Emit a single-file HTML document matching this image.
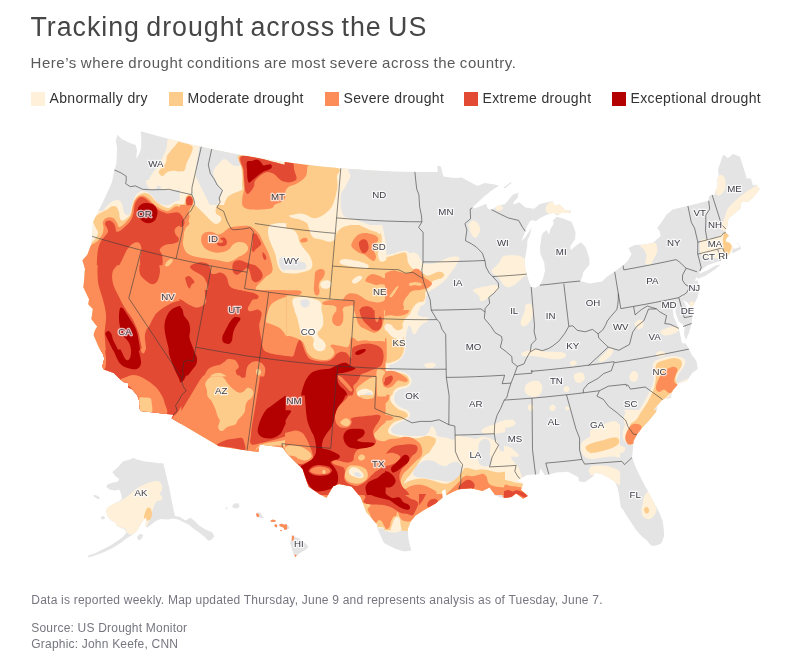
<!DOCTYPE html>
<html lang="en">
<head>
<meta charset="utf-8">
<title>Tracking drought across the US</title>
<style>
html,body{margin:0;padding:0;background:#fff;}
body{width:796px;height:659px;position:relative;overflow:hidden;font-family:"Liberation Sans",sans-serif;}
.t{position:absolute;white-space:nowrap;margin:0;line-height:1;}
h1.t{left:30.5px;top:14.1px;font-size:26.8px;font-weight:400;color:#464646;letter-spacing:0.95px;word-spacing:-1.9px;}
p.sub{left:30.5px;top:55.3px;font-size:15px;color:#5a5a5a;letter-spacing:0.55px;word-spacing:-0.8px;}
.lg{position:absolute;top:92px;height:14px;font-size:14px;line-height:14px;color:#333;white-space:nowrap;letter-spacing:0.36px;}
.lg i{position:absolute;left:0;top:0;width:14px;height:14px;display:block;}
.lg span{position:absolute;left:18.5px;top:-1px;}
p.ft{font-size:12px;color:#767680;left:31.3px;letter-spacing:0.2px;}
svg{position:absolute;left:0;top:0;}
</style>
</head>
<body>
<h1 class="t">Tracking drought across the US</h1>
<p class="t sub">Here’s where drought conditions are most severe across the country.</p>
<div class="lg" style="left:31px"><i style="background:#fef0d9"></i><span>Abnormally dry</span></div>
<div class="lg" style="left:169px"><i style="background:#fdcc8a"></i><span>Moderate drought</span></div>
<div class="lg" style="left:325px"><i style="background:#fc8d59"></i><span>Severe drought</span></div>
<div class="lg" style="left:464px"><i style="background:#e34a33"></i><span>Extreme drought</span></div>
<div class="lg" style="left:612px"><i style="background:#b30000"></i><span>Exceptional drought</span></div>
<svg width="796" height="659" viewBox="0 0 796 659">
<defs><clipPath id="land"><path d="M114.4,170.1 116.3,163.8 116.6,158.8 117.1,147.9 115.8,140.7 117.3,134.7 122,139.2 130.1,143 135.8,145 137.1,150.5 136,158.6 138.9,154.4 141.2,148.3 141.3,139.8 140.8,131.3 140.8,131.3 156.9,135.8 173.1,140 189.3,144 205.6,147.7 221.9,151.2 238.3,154.4 254.7,157.3 271.2,160 287.7,162.4 304.3,164.5 320.9,166.4 337.5,168 354.2,169.3 370.8,170.4 387.5,171.2 404.2,171.7 420.9,172 437.6,172 437.5,165.8 439.7,166 441.1,167.1 442.7,173.9 443.6,176.4 451.9,177.7 456.8,178.1 461.7,177.6 466.8,180.2 472.4,183.2 477.5,185.9 484.5,183 494.5,184.5 499,185.8 491.6,190.4 484.1,196.5 476.6,203.4 472.3,207.4 474.6,208.4 482.3,205.6 486.2,203.8 487.6,208.6 491.4,209.7 498.1,205.5 504.8,204.2 507.9,200.7 513.1,194.6 518.5,192.8 517.8,197.5 513.6,201.9 513.3,204.7 519.3,202.3 525.4,207.5 534.1,208.8 539.8,204.1 549.8,201.7 552.6,201 554.2,205.3 559.8,204.6 563,207.5 565.1,210.5 570.9,210.6 570.6,212.8 564.9,213 561.4,213.1 557.1,215.6 553.4,212.8 545.6,215.3 539.1,218.5 535.9,221.3 532.3,220 530.1,221 527.1,226.2 525.3,231.3 521.9,239.8 521.4,241 524.7,238 528.3,232.7 531.3,227.8 530.2,234.2 527.3,241 527.2,246 526,252.7 524.5,262.7 524.7,265.2 526.7,274.1 529.2,282.2 530,284.6 531.2,287 535.2,287.8 539.8,285.2 542.8,279.2 545,270.7 544.2,262.5 540.3,253.8 540.1,246.4 541.5,236.4 542.9,232.9 546.6,230 548.9,234.4 550.6,228.8 553.5,224.3 553.1,220.2 556.7,216.8 563.3,218.5 571.8,222 573.6,226.8 575.5,232.3 575.2,239 570.3,246.3 570.8,250.3 576.1,245.5 581,242.3 585.9,247.5 589.3,258.6 589.5,264.4 585.9,269.1 583.3,272 582.6,276.2 580.2,281 585.9,282.4 589.8,283.6 598.2,282 601.8,281.8 607.2,276.5 614.7,271.7 619.3,268.1 623,265.5 627.8,260.8 631.5,254.3 628.5,247.9 634.6,245 645.4,244.4 653.5,242.5 657.5,238.8 660.6,236 659.5,231.1 657.1,228.3 662.2,221.3 666.7,214.5 672.4,209.8 672.4,209.6 684.5,206.8 696.6,203.8 708.7,200.7 708.8,196.6 712.1,194.9 714.9,195 714.8,192.5 717.7,185.7 717.3,179.9 718.7,174.4 718,169.5 722.9,155.3 725.1,155.6 727.6,158.3 733.3,153.9 740,156.8 745.3,173.4 746.6,178.2 750.9,178.6 753,185.6 756.4,184.6 759.9,189 754.5,196.3 748.8,201.5 741.6,202 740.1,209.3 733.1,214.7 728.6,218.5 727,228.3 726,229.1 725.7,232.6 729,235.5 726.2,238.8 725.7,241.5 729.8,243 732.6,246.5 734,249 739.7,247.1 738,243.3 736.2,243.4 739.8,245.3 741.1,248.9 735.9,251.5 733.3,253.5 731.4,251.1 729.3,255.1 727.9,255.4 727.1,256.2 723.3,251.5 724.2,257.3 720,260.8 712.6,263.4 707.9,264.9 702.6,269 699.8,271.1 699.3,273.7 707.9,270 715.6,265.5 721,264.6 714.3,270.1 705.5,275.7 698,278.7 696.6,277 694.7,280.8 697.8,280.6 699.6,288.1 697.8,297 695.1,301.9 691.9,308.1 687.5,302.8 682.4,299.7 685.1,303.3 686.1,308.2 690.6,310.9 692.4,316.1 691.6,323.4 689,333 685.9,340.1 683.9,334 684.9,326.2 678.7,321.6 675.4,312.2 676.1,303.6 672.5,307.7 673.9,317.5 677.5,325.3 678.8,328.4 680.2,334.8 681.9,342.9 686,343.7 688.9,349.1 691.6,354.4 696.4,361 697.8,369.1 692.2,372.9 687.1,380.7 679.4,383.1 672.6,390.4 670.7,398.3 662.7,399.6 657.7,405.8 656,411.9 648,421.7 641.5,428.6 636.9,434.7 633.7,440.7 632.9,449.2 632,457.6 632.3,457 633.2,460.5 635.8,467.5 640.1,476.2 644.5,484.9 648.9,492.8 652.4,499.7 656.7,507.6 660.2,514.6 662.8,521.6 663.7,528.5 664.2,535.5 662.8,539.9 661.1,543.4 657.6,545.1 653.2,546 650.6,545.1 647.1,540.8 642.8,537.3 639.3,533.8 635.8,529.4 632.3,524.2 628.8,518.9 625.3,513.7 623.6,510.2 620.9,507.6 620.1,502.4 619.2,495.4 617.5,487.5 614.8,481.4 602.3,474.3 595,472.8 593.3,476.3 584.7,482.3 578.8,481.3 578.4,477.2 567.8,471.7 556.6,472.5 548.9,474.4 544.8,475.3 540.6,468.5 539,474.4 535.5,474.4 527,474.9 520.2,478.7 516.8,481 523.4,483 521,489.8 527.8,495.9 523,498.7 516.2,493.4 511.4,497 502.9,498.3 495.5,495.4 489.5,487.5 482.5,491.1 471,488.2 458.9,489.3 452.6,491.9 446.2,495.3 445.4,488.8 441.9,491.2 442.6,497.8 435.5,503.6 424,510.1 415.3,515.8 410.9,521.5 407.8,528.8 408.4,538.5 411.2,550.6 404.5,551.5 395.7,548.9 384,542.9 377.8,529.6 377.2,524.7 366.1,512 361,497.8 351.6,486.4 338.9,483.9 333.1,486.3 326.5,497.7 319.6,494.3 308.7,486.8 305.3,477.5 302.6,469 294.2,460.7 286.6,453 282.6,447.4 259.5,444.6 258.5,452 246.9,450.4 219,446.3 171.5,418.3 173.4,414.8 140.5,411 139.4,407.9 139.9,402.9 137.3,395.6 131.9,389.2 128.1,387.5 127.9,382.7 123.8,382.2 119.2,378.5 113.7,372.9 103.9,369.5 102.2,366.5 104.3,358.5 102.8,353.8 98.6,346.7 93.6,335 95,330.2 97.3,326.6 95.3,324.3 91.4,318.9 92.9,309 88.3,304.2 89.1,299.3 83.4,287.2 84.1,280.5 85,268.7 82.4,260.3 87.3,254.7 91.1,244.7 92.2,236.4 93,221.9 105.9,195.8 111.9,182.2 114.4,170.1ZM503.6,187.5 510.9,182 511.6,183 504.8,188.4ZM112.3,472 118.4,466.7 122.8,461.4 129,459.7 133.4,457.9 137.8,459.7 144.8,461.4 151.9,462.3 158.9,463.2 163.3,463.2 166,474.6 169.5,488.7 172.1,502.8 174.8,516 180.1,516.9 185.3,520.4 190.6,517.8 194.1,520.4 199.4,525.7 206.5,530.1 211.7,531.9 214.4,536.3 211.7,539.8 208.2,540.7 204.7,537.1 199.4,532.7 194.1,529.2 188.9,524.8 183.6,522.2 178.3,519.5 173,518.6 167.7,519.5 160.7,519 155.4,521.3 151,524.8 147.5,527.5 145.2,526 146.6,520.4 146.1,517.2 144,519.5 140.4,524.8 136.9,531 133.4,534.1 127.2,538 120.2,543.3 113.2,547.7 106.1,551.2 99.1,553.9 92,556.5 87.6,557.4 88.5,555.6 95.6,553 102.6,549.5 109.6,545.9 116.7,541.5 122.8,537.1 126.4,532.7 124.6,529.2 120.2,527.5 116.7,525.7 115.8,523.1 111.4,520.4 107.9,516.9 106.1,511.6 107,508.1 110.5,505.4 115.8,502.8 119.3,501 122,499.3 121.1,494 119.3,489.6 114.9,490.5 109.6,489.6 106.1,487 107.9,484.3 113.2,482.6 117.6,481.7 119.3,479 115.8,476.4ZM136.9,537.1 139.6,534.1 143.1,534.5 142.2,538 138.7,540.7ZM92.9,495.4 95.6,494.9 100,497.5 99.1,499.3 95.6,497.9ZM100.8,516.9 103.5,516 105.2,517.8 103.5,519.5 101.2,519ZM232.6,505.1 235.1,503.2 238.8,503.5 239.5,506.3 237.6,508.6 234.4,508.2 232.3,506.9ZM225.3,508.8 226.9,506.9 227.8,507.6 226.3,509.4ZM255.8,513.8 257.7,512.3 260.2,512.6 262.1,515.7 264,517.9 262.1,518.2 259.6,517.6 257.1,517 256.2,515.4ZM270.3,520.8 272.1,519.6 275.3,520.1 275.9,521.4 273.4,522 270.9,521.8ZM274.3,524.9 275.9,523.9 277.5,525.4 276.8,527.4 275,527ZM279,524.5 281.6,523.6 284.1,524.5 286.6,524.1 289.1,526.4 289.7,528.3 287.2,529.5 284.7,529.9 283.4,527.9 281.6,527 279.7,526.2ZM279.8,530.4 281.3,529.7 282.2,530.7 280.9,531.4ZM291.6,535.8 293.5,535.2 295.4,537.1 299.1,538.3 302.9,540.9 306.1,544 308.6,546.8 306.7,549 303.5,550.9 300.4,552.8 297.3,555.3 295.4,557.2 294.1,555.3 292.9,552.2 291.9,549 291,545.3 289.7,543.4 291,540.2 291.9,537.7Z"/></clipPath></defs>
<path d="M114.4,170.1 116.3,163.8 116.6,158.8 117.1,147.9 115.8,140.7 117.3,134.7 122,139.2 130.1,143 135.8,145 137.1,150.5 136,158.6 138.9,154.4 141.2,148.3 141.3,139.8 140.8,131.3 140.8,131.3 156.9,135.8 173.1,140 189.3,144 205.6,147.7 221.9,151.2 238.3,154.4 254.7,157.3 271.2,160 287.7,162.4 304.3,164.5 320.9,166.4 337.5,168 354.2,169.3 370.8,170.4 387.5,171.2 404.2,171.7 420.9,172 437.6,172 437.5,165.8 439.7,166 441.1,167.1 442.7,173.9 443.6,176.4 451.9,177.7 456.8,178.1 461.7,177.6 466.8,180.2 472.4,183.2 477.5,185.9 484.5,183 494.5,184.5 499,185.8 491.6,190.4 484.1,196.5 476.6,203.4 472.3,207.4 474.6,208.4 482.3,205.6 486.2,203.8 487.6,208.6 491.4,209.7 498.1,205.5 504.8,204.2 507.9,200.7 513.1,194.6 518.5,192.8 517.8,197.5 513.6,201.9 513.3,204.7 519.3,202.3 525.4,207.5 534.1,208.8 539.8,204.1 549.8,201.7 552.6,201 554.2,205.3 559.8,204.6 563,207.5 565.1,210.5 570.9,210.6 570.6,212.8 564.9,213 561.4,213.1 557.1,215.6 553.4,212.8 545.6,215.3 539.1,218.5 535.9,221.3 532.3,220 530.1,221 527.1,226.2 525.3,231.3 521.9,239.8 521.4,241 524.7,238 528.3,232.7 531.3,227.8 530.2,234.2 527.3,241 527.2,246 526,252.7 524.5,262.7 524.7,265.2 526.7,274.1 529.2,282.2 530,284.6 531.2,287 535.2,287.8 539.8,285.2 542.8,279.2 545,270.7 544.2,262.5 540.3,253.8 540.1,246.4 541.5,236.4 542.9,232.9 546.6,230 548.9,234.4 550.6,228.8 553.5,224.3 553.1,220.2 556.7,216.8 563.3,218.5 571.8,222 573.6,226.8 575.5,232.3 575.2,239 570.3,246.3 570.8,250.3 576.1,245.5 581,242.3 585.9,247.5 589.3,258.6 589.5,264.4 585.9,269.1 583.3,272 582.6,276.2 580.2,281 585.9,282.4 589.8,283.6 598.2,282 601.8,281.8 607.2,276.5 614.7,271.7 619.3,268.1 623,265.5 627.8,260.8 631.5,254.3 628.5,247.9 634.6,245 645.4,244.4 653.5,242.5 657.5,238.8 660.6,236 659.5,231.1 657.1,228.3 662.2,221.3 666.7,214.5 672.4,209.8 672.4,209.6 684.5,206.8 696.6,203.8 708.7,200.7 708.8,196.6 712.1,194.9 714.9,195 714.8,192.5 717.7,185.7 717.3,179.9 718.7,174.4 718,169.5 722.9,155.3 725.1,155.6 727.6,158.3 733.3,153.9 740,156.8 745.3,173.4 746.6,178.2 750.9,178.6 753,185.6 756.4,184.6 759.9,189 754.5,196.3 748.8,201.5 741.6,202 740.1,209.3 733.1,214.7 728.6,218.5 727,228.3 726,229.1 725.7,232.6 729,235.5 726.2,238.8 725.7,241.5 729.8,243 732.6,246.5 734,249 739.7,247.1 738,243.3 736.2,243.4 739.8,245.3 741.1,248.9 735.9,251.5 733.3,253.5 731.4,251.1 729.3,255.1 727.9,255.4 727.1,256.2 723.3,251.5 724.2,257.3 720,260.8 712.6,263.4 707.9,264.9 702.6,269 699.8,271.1 699.3,273.7 707.9,270 715.6,265.5 721,264.6 714.3,270.1 705.5,275.7 698,278.7 696.6,277 694.7,280.8 697.8,280.6 699.6,288.1 697.8,297 695.1,301.9 691.9,308.1 687.5,302.8 682.4,299.7 685.1,303.3 686.1,308.2 690.6,310.9 692.4,316.1 691.6,323.4 689,333 685.9,340.1 683.9,334 684.9,326.2 678.7,321.6 675.4,312.2 676.1,303.6 672.5,307.7 673.9,317.5 677.5,325.3 678.8,328.4 680.2,334.8 681.9,342.9 686,343.7 688.9,349.1 691.6,354.4 696.4,361 697.8,369.1 692.2,372.9 687.1,380.7 679.4,383.1 672.6,390.4 670.7,398.3 662.7,399.6 657.7,405.8 656,411.9 648,421.7 641.5,428.6 636.9,434.7 633.7,440.7 632.9,449.2 632,457.6 632.3,457 633.2,460.5 635.8,467.5 640.1,476.2 644.5,484.9 648.9,492.8 652.4,499.7 656.7,507.6 660.2,514.6 662.8,521.6 663.7,528.5 664.2,535.5 662.8,539.9 661.1,543.4 657.6,545.1 653.2,546 650.6,545.1 647.1,540.8 642.8,537.3 639.3,533.8 635.8,529.4 632.3,524.2 628.8,518.9 625.3,513.7 623.6,510.2 620.9,507.6 620.1,502.4 619.2,495.4 617.5,487.5 614.8,481.4 602.3,474.3 595,472.8 593.3,476.3 584.7,482.3 578.8,481.3 578.4,477.2 567.8,471.7 556.6,472.5 548.9,474.4 544.8,475.3 540.6,468.5 539,474.4 535.5,474.4 527,474.9 520.2,478.7 516.8,481 523.4,483 521,489.8 527.8,495.9 523,498.7 516.2,493.4 511.4,497 502.9,498.3 495.5,495.4 489.5,487.5 482.5,491.1 471,488.2 458.9,489.3 452.6,491.9 446.2,495.3 445.4,488.8 441.9,491.2 442.6,497.8 435.5,503.6 424,510.1 415.3,515.8 410.9,521.5 407.8,528.8 408.4,538.5 411.2,550.6 404.5,551.5 395.7,548.9 384,542.9 377.8,529.6 377.2,524.7 366.1,512 361,497.8 351.6,486.4 338.9,483.9 333.1,486.3 326.5,497.7 319.6,494.3 308.7,486.8 305.3,477.5 302.6,469 294.2,460.7 286.6,453 282.6,447.4 259.5,444.6 258.5,452 246.9,450.4 219,446.3 171.5,418.3 173.4,414.8 140.5,411 139.4,407.9 139.9,402.9 137.3,395.6 131.9,389.2 128.1,387.5 127.9,382.7 123.8,382.2 119.2,378.5 113.7,372.9 103.9,369.5 102.2,366.5 104.3,358.5 102.8,353.8 98.6,346.7 93.6,335 95,330.2 97.3,326.6 95.3,324.3 91.4,318.9 92.9,309 88.3,304.2 89.1,299.3 83.4,287.2 84.1,280.5 85,268.7 82.4,260.3 87.3,254.7 91.1,244.7 92.2,236.4 93,221.9 105.9,195.8 111.9,182.2 114.4,170.1ZM503.6,187.5 510.9,182 511.6,183 504.8,188.4ZM112.3,472 118.4,466.7 122.8,461.4 129,459.7 133.4,457.9 137.8,459.7 144.8,461.4 151.9,462.3 158.9,463.2 163.3,463.2 166,474.6 169.5,488.7 172.1,502.8 174.8,516 180.1,516.9 185.3,520.4 190.6,517.8 194.1,520.4 199.4,525.7 206.5,530.1 211.7,531.9 214.4,536.3 211.7,539.8 208.2,540.7 204.7,537.1 199.4,532.7 194.1,529.2 188.9,524.8 183.6,522.2 178.3,519.5 173,518.6 167.7,519.5 160.7,519 155.4,521.3 151,524.8 147.5,527.5 145.2,526 146.6,520.4 146.1,517.2 144,519.5 140.4,524.8 136.9,531 133.4,534.1 127.2,538 120.2,543.3 113.2,547.7 106.1,551.2 99.1,553.9 92,556.5 87.6,557.4 88.5,555.6 95.6,553 102.6,549.5 109.6,545.9 116.7,541.5 122.8,537.1 126.4,532.7 124.6,529.2 120.2,527.5 116.7,525.7 115.8,523.1 111.4,520.4 107.9,516.9 106.1,511.6 107,508.1 110.5,505.4 115.8,502.8 119.3,501 122,499.3 121.1,494 119.3,489.6 114.9,490.5 109.6,489.6 106.1,487 107.9,484.3 113.2,482.6 117.6,481.7 119.3,479 115.8,476.4ZM136.9,537.1 139.6,534.1 143.1,534.5 142.2,538 138.7,540.7ZM92.9,495.4 95.6,494.9 100,497.5 99.1,499.3 95.6,497.9ZM100.8,516.9 103.5,516 105.2,517.8 103.5,519.5 101.2,519ZM232.6,505.1 235.1,503.2 238.8,503.5 239.5,506.3 237.6,508.6 234.4,508.2 232.3,506.9ZM225.3,508.8 226.9,506.9 227.8,507.6 226.3,509.4ZM255.8,513.8 257.7,512.3 260.2,512.6 262.1,515.7 264,517.9 262.1,518.2 259.6,517.6 257.1,517 256.2,515.4ZM270.3,520.8 272.1,519.6 275.3,520.1 275.9,521.4 273.4,522 270.9,521.8ZM274.3,524.9 275.9,523.9 277.5,525.4 276.8,527.4 275,527ZM279,524.5 281.6,523.6 284.1,524.5 286.6,524.1 289.1,526.4 289.7,528.3 287.2,529.5 284.7,529.9 283.4,527.9 281.6,527 279.7,526.2ZM279.8,530.4 281.3,529.7 282.2,530.7 280.9,531.4ZM291.6,535.8 293.5,535.2 295.4,537.1 299.1,538.3 302.9,540.9 306.1,544 308.6,546.8 306.7,549 303.5,550.9 300.4,552.8 297.3,555.3 295.4,557.2 294.1,555.3 292.9,552.2 291.9,549 291,545.3 289.7,543.4 291,540.2 291.9,537.7Z" fill="#e4e4e4"/>
<g clip-path="url(#land)">
<path fill="#fef0d9" d="M80,210.7C83.7,210.7 98,211.1 102.2,210.7C106.3,210.2 103.7,209.3 105,208.1C106.4,206.8 108.5,204.3 110,203.1C111.6,201.8 112.8,201.1 114.1,200.6C115.5,200.1 116.9,199.8 118.1,200C119.3,200.3 120.4,201.1 121.1,202.2C121.9,203.2 122.2,204.6 122.6,206.1C123.1,207.6 123.3,209.8 123.7,211.1C124.1,212.4 124.5,213.5 125.2,214.1C126,214.8 127.4,215.5 128.3,215.2C129.1,215 129.8,214.2 130.4,212.6C130.9,211.1 131.1,207.8 131.6,205.8C132.1,203.8 132.7,202.3 133.4,200.5C134.1,198.7 134.9,196.6 135.8,195.2C136.8,193.8 138,192.8 139.2,192.1C140.3,191.4 141.4,190.9 142.8,190.9C144.2,191 146.1,191.6 147.5,192.3C148.9,193 150,194.3 151.2,195.3C152.3,196.4 153.4,197.7 154.4,198.7C155.3,199.7 155.6,200.6 156.6,201.4C157.6,202.2 158.9,203 160.3,203.7C161.7,204.3 163.4,205 165,205.2C166.5,205.4 168.3,205.1 169.5,204.7C170.8,204.4 171.6,203.5 172.6,202.9C173.6,202.4 174.4,201.8 175.4,201.4C176.5,201 177.8,200.8 178.6,200.6C179.4,200.4 180,200.3 180.3,200.2L180.3,265.3L80,265.3L80,210.7ZM180.3,180L180.3,186.1C180.2,186.2 179.8,186.1 179.5,186.8C179.3,187.5 179.8,189.7 178.6,190.3C177.5,190.9 175.5,190.5 172.7,190.3C170,190.2 164.1,190.1 162.1,189.4C160,188.8 161.2,186.9 160.4,186.4C159.6,185.8 158.1,185.7 157.4,186.1C156.6,186.5 157.1,188.3 155.9,188.8C154.6,189.3 151.5,189.5 150,188.8C148.4,188.1 147.4,186 146.8,184.6C146.1,183.1 146.1,180.8 146,180L180.3,180ZM285.3,125 285.3,205.3 179.7,205.3 179.7,125ZM168.6,139C170.8,137.6 178.4,139 180.3,139L180.3,180.3L148.8,180.3C148.8,180.3 148.4,180.9 148.9,179.9C149.3,179 150.4,176.5 151.6,174.6C152.8,172.7 154.8,170.6 156.1,168.6C157.5,166.5 158.7,164.8 159.9,162.5C161.2,160.2 162.6,157.4 163.7,154.9C164.9,152.4 166,150 166.8,147.3C167.6,144.7 166.3,140.4 168.6,139ZM390,225.3 284.7,225.3 284.7,140 390,140ZM180,205 285.4,205 285.4,290.4 180,290.4ZM285,225 385.4,225 385.4,310.4 285,310.4ZM385,255.3C386.3,255.1 390.1,254.5 392.6,253.8C395.1,253.2 397.9,252.1 400.2,251.6C402.5,251 404.7,250.2 406.2,250.5C407.8,250.7 408,252.8 409.3,253.1C410.5,253.4 412.4,252.1 413.8,252.3C415.2,252.6 416.5,253.5 417.6,254.6C418.8,255.7 419.9,257.8 420.7,259.1C421.4,260.5 421,262.2 422.2,262.9C423.3,263.7 425.3,263.7 427.5,263.7C429.6,263.7 432.5,263.6 435.1,262.9C437.6,262.3 440.4,260.8 442.7,259.9C444.9,259 446.7,258.2 448.7,257.6C450.8,257.1 453,256.6 454.8,256.6C456.6,256.6 458.8,256.7 459.4,257.6C459.9,258.6 458.6,260.5 457.8,262.2C457.1,263.8 456.1,265.6 454.8,267.5C453.5,269.4 451.8,271.5 450.3,273.6C448.7,275.6 447.5,277.7 445.7,279.6C443.9,281.5 441.7,283.4 439.6,284.9C437.6,286.5 435.3,287.6 433.6,288.7C431.8,289.9 430.3,290.3 429,291.8C427.7,293.3 426.7,295.8 426,297.8C425.3,299.9 425.6,302.5 424.8,303.9C423.9,305.3 421.6,305.2 420.7,306.2C419.7,307.2 419.5,309.3 419.1,310C418.8,310.7 418.8,310.3 418.7,310.4L385,310.4L385,255.3ZM473,290.3C473.3,289.4 475.5,288.6 477.6,288C479.6,287.3 482.6,287 485.2,286.5C487.7,286 490.7,285.1 492.7,284.9C494.8,284.8 496.4,284.9 497.3,285.7C498.2,286.5 498.6,288.2 498.1,289.5C497.5,290.8 495.6,292.1 494.3,293.3C492.9,294.4 491.2,295.2 489.7,296.3C488.2,297.5 486.7,299.4 485.2,300.1C483.6,300.9 481.6,301.5 480.6,300.9C479.6,300.2 479.8,297.6 479.1,296.3C478.3,295.1 477.1,294.3 476,293.3C475,292.3 472.8,291.1 473,290.3ZM469.2,225L479.1,225C479.3,225.8 480.4,227.9 480.3,229.6C480.2,231.2 479.2,233.5 478.3,234.9C477.5,236.3 476.3,237.8 475.3,237.9C474.3,238 473.1,236.8 472.3,235.6C471.4,234.5 470.5,232.8 470,231.1C469.5,229.3 469.3,226 469.2,225ZM75,265 180.4,265 180.4,350.4 75,350.4ZM285.5,290 285.5,375.5 179.5,375.5 179.5,290ZM285,310 385.5,310 385.5,395.5 285,395.5ZM385,310L419.1,310C418.9,310.8 417.2,313.4 417.6,314.6C418,315.7 419.6,316.3 421.4,316.8C423.2,317.3 427.2,316.8 428.2,317.6C429.3,318.3 428.4,320.4 427.5,321.4C426.6,322.4 424.3,322.6 422.9,323.7C421.5,324.7 420.3,325.9 419.1,327.5C418,329 417,331.6 416.1,332.8C415.2,333.9 414.2,334.7 413.5,334.3C412.8,333.9 412.6,331.9 412,330.5C411.4,329.1 410.7,326.6 410,325.9C409.4,325.3 408.6,325.7 408.1,326.7C407.5,327.7 407,329.7 406.5,332C406.1,334.3 405.7,337.7 405.5,340.3C405.3,343 405.9,345.4 405.5,347.9C405.1,350.5 404.3,353.4 403.2,355.5C402.1,357.7 400.4,359.4 398.7,360.8C396.9,362.2 394.2,363.1 392.6,363.9C390.9,364.6 389.3,364.8 388.8,365.4C388.3,366 390.2,367.2 389.6,367.7C388.9,368.2 385.8,368.3 385,368.4L385,310ZM385,369.2C386,369.3 389,369.7 391.1,369.9C393.1,370.2 395.1,370.3 397.1,370.7C399.2,371.1 401.4,371.6 403.2,372.2C405,372.8 406.4,373.5 407.8,374.5C409.1,375.5 410.5,376.9 411.1,378.3C411.7,379.7 411.9,381.6 411.6,382.8C411.3,384.1 410.2,385 409.3,385.9C408.4,386.8 407.5,387.6 406.2,388.1C405,388.7 403.1,388.5 401.7,388.9C400.3,389.3 399,389.7 397.9,390.4C396.8,391.2 395.5,392.6 394.9,393.5C394.2,394.3 394.2,395.2 394,395.5L385,395.5L385,369.2ZM424.2,365.4C424,364.6 426,363.5 427.5,363.1C428.9,362.7 431.4,362.6 432.8,362.8C434.2,363.1 435.7,363.9 435.8,364.6C436,365.4 434.8,366.8 433.6,367.4C432.3,367.9 429.8,368.3 428.2,368C426.7,367.6 424.3,366.2 424.2,365.4ZM75,349.5 180.5,349.5 180.5,445 75,445ZM179.4,475 179.4,375 285.6,375 285.6,475ZM285,395 385.6,395 385.6,495 285,495ZM385,395L394.9,395C394.7,395.8 393.9,398 394.1,399.6C394.4,401.1 395.1,402.7 396.4,404.1C397.6,405.5 399.8,406.9 401.7,407.9C403.6,408.9 406.4,409 407.8,410.2C409.2,411.3 410,413.2 410,414.7C410,416.2 409.2,418.1 407.8,419.3C406.4,420.4 403.7,420.7 401.7,421.6C399.7,422.4 397.4,423.3 395.6,424.6C393.9,425.9 391.6,427.8 391.1,429.1C390.6,430.5 391.3,432 392.6,432.9C393.9,433.9 396.4,434.3 398.7,434.8C400.9,435.2 403.5,435.5 406.2,435.7C409,435.9 412.3,436 415.3,436C418.4,436 422.2,436.4 424.5,435.7C426.7,434.9 428,432.8 429,431.4C430,430.1 429.8,428.4 430.5,427.6C431.3,426.9 432.7,426.2 433.6,426.9C434.4,427.5 435.2,429.9 435.8,431.4C436.5,432.9 435.7,435 437.4,436C439,437 443,436.9 445.7,437.5C448.4,438.1 451.5,440 453.3,439.8C455.1,439.5 454.5,436.5 456.3,436C458.1,435.5 461.6,436.5 463.9,436.7C466.2,437 468,437.1 470,437.5C472,437.9 474.5,439 476,439C477.6,439 477.8,437.9 479.1,437.5C480.3,437.1 481.9,436.6 483.6,436.7C485.4,436.9 487.9,437.6 489.7,438.2C491.5,438.9 493.1,440.1 494.3,440.5C495.4,440.9 495.8,439.5 496.5,440.5C497.3,441.5 498.2,444.8 498.8,446.6C499.4,448.4 499.3,450.4 500.3,451.1C501.4,451.9 504.2,451.1 505,451.1L505,495L385,495L385,395ZM481.4,430.7C481.6,429.7 483.5,428.5 485.2,427.6C486.8,426.7 489.7,425.9 491.2,425.3C492.7,424.8 493.1,425.1 494.3,424.6C495.4,424.1 496.8,422.9 498.1,422.3C499.3,421.7 500.7,421.4 501.8,421.1C503,420.8 504.5,420.8 505,420.8L505,432.2C504.2,432.3 502.1,432.7 500.3,432.9C498.6,433.2 496.3,433.5 494.6,433.7C492.8,433.9 491.5,434.2 489.7,434.2C487.9,434.1 485,433.8 483.6,433.2C482.2,432.7 481.1,431.6 481.4,430.7ZM300,494.1L420,494.1L420,527.7C419,527.7 415.7,527.5 413.8,528C411.9,528.5 410.6,530.3 408.5,530.7C406.3,531.1 403.1,530.1 400.9,530.4C398.8,530.7 397.5,532.2 395.6,532.5C393.7,532.8 391.6,532.6 389.5,532.2C387.5,531.8 385.5,530.6 383.5,529.9C381.4,529.3 391.3,528.7 377.4,528.4C363.5,528.2 312.9,528.4 300,528.4L300,494.1ZM504.5,455L509.8,455C510.2,455.8 511.1,458 512.1,459.6C513.1,461.1 514.6,462.3 515.9,464.1C517.2,465.9 518.7,467.9 519.7,470.2C520.7,472.5 521.3,475.5 522,477.8C522.6,480 522.1,480.5 523.5,483.8C524.9,487.1 533.5,495.2 530.3,497.5C527.2,499.8 508.8,504.6 504.5,497.5C500.2,490.4 504.5,462.1 504.5,455ZM419,518.7 419,494 445.3,494 445.3,518.7ZM467.7,225.5C468.6,224.7 471.1,220.9 472.8,220.5C474.4,220.1 476.8,222.2 477.8,223C478.8,223.9 478.5,225.2 478.7,225.7L467.7,225.7C467.7,225.7 466.9,226.4 467.7,225.5ZM495.4,206.7C495.8,205.8 497.9,204.9 499.1,204.9C500.4,204.9 502.5,205.8 502.9,206.7C503.3,207.5 502.7,209.3 501.7,209.9C500.6,210.6 497.7,211 496.6,210.5C495.6,209.9 495,207.6 495.4,206.7ZM545.6,207.9C546,206.3 547.5,203.5 549.4,202.4C551.3,201.4 555.1,201.2 556.9,201.7C558.8,202.2 559,204.2 560.7,205.4C562.4,206.7 565.3,208.3 567,209.2C568.7,210.1 570.8,210.2 570.8,211C570.8,211.7 568.9,212.9 567,213.5C565.1,214 562,214.1 559.4,214.2C556.9,214.3 554,214.5 551.9,214.2C549.8,213.9 547.9,213.5 546.9,212.5C545.8,211.4 545.2,209.6 545.6,207.9ZM545.6,207.9C546,206.3 547.5,203.5 549.4,202.4C551.3,201.4 555.1,201.2 556.9,201.7C558.8,202.2 559,204.2 560.7,205.4C562.4,206.7 565.3,208.3 567,209.2C568.7,210.1 570.8,210.2 570.8,211C570.8,211.7 568.9,212.9 567,213.5C565.1,214 562,214.1 559.4,214.2C556.9,214.3 554,214.5 551.9,214.2C549.8,213.9 547.9,213.5 546.9,212.5C545.8,211.4 545.2,209.6 545.6,207.9ZM525.5,305.2C526.4,304.2 529.3,303.1 530.6,303.9C531.8,304.8 532.9,307.9 533.1,310.2C533.3,312.5 532.6,315.5 531.8,317.8C531,320.1 529.5,322.6 528,324C526.6,325.5 524.3,326.8 523,326.6C521.8,326.3 520.5,324.7 520.5,322.8C520.5,320.9 522.3,317.3 523,315.3C523.8,313.2 524.6,311.9 525,310.2C525.4,308.6 524.6,306.2 525.5,305.2ZM521.8,352.9C522.6,352 525.7,351.1 528,350.4C530.3,349.8 532.6,349 535.6,349.2C538.5,349.4 542.3,351.3 545.6,351.7C549,352.1 552.5,351.5 555.7,351.7C558.8,351.9 562.8,352.1 564.5,352.9C566.1,353.8 566.8,355.7 565.7,356.7C564.7,357.8 561.1,358.9 558.2,359.2C555.3,359.5 551.5,358.9 548.1,358.5C544.8,358 541,357.1 538.1,356.7C535.2,356.3 533.1,356.1 530.6,356C528,355.8 524.5,356.5 523,356C521.5,355.5 520.9,353.9 521.8,352.9ZM570.3,361.7C570.9,361 573.4,360.3 574.5,360.5C575.7,360.7 577.2,362.2 577,363C576.9,363.8 574.8,365.2 573.8,365.5C572.7,365.8 571.3,365.6 570.8,365C570.2,364.4 569.6,362.5 570.3,361.7ZM598.9,359.2C599.6,357.8 602.9,354.7 604.7,352.9C606.5,351.1 608.3,348.8 609.7,348.4C611.1,348 612.8,349.3 613,350.4C613.2,351.6 612.3,353.8 611,355.5C609.6,357.1 606.4,359.4 604.7,360.5C602.9,361.5 601.4,361.9 600.4,361.7C599.4,361.5 598.2,360.7 598.9,359.2ZM525.5,385.6C526.4,383.9 528.5,382.6 530.6,381.8C532.6,381.1 536.2,380.5 538.1,381.1C540,381.7 541.4,383.6 541.9,385.6C542.4,387.6 542.2,391.3 541.1,393.1C540.1,395 537.5,396.5 535.6,396.9C533.6,397.3 531.1,396.5 529.3,395.7C527.5,394.8 525.7,393.6 525,391.9C524.4,390.2 524.6,387.3 525.5,385.6ZM563.7,388.1C564.1,387.2 566,386 567,386.1C567.9,386.2 569.4,387.7 569.5,388.6C569.6,389.6 568.6,391.4 567.7,391.9C566.9,392.3 565.1,392 564.5,391.4C563.8,390.8 563.3,389 563.7,388.1ZM573.8,375.6C574.2,374 576.7,372.9 578.3,372.5C579.9,372.2 582.3,372.5 583.3,373.5C584.4,374.5 585,377.1 584.6,378.6C584.2,380.1 582.3,382 580.8,382.6C579.3,383.1 577,383 575.8,381.8C574.6,380.7 573.4,377.1 573.8,375.6ZM549.4,407C549.7,405.9 551.6,404.4 552.7,404.4C553.7,404.4 555.4,406 555.7,407C556,407.9 555.3,409.6 554.4,410.2C553.6,410.9 551.5,411.3 550.7,410.7C549.8,410.2 549.1,408 549.4,407ZM565,407.7C565.1,407 567,406 567.7,406.2C568.5,406.4 569.6,408 569.5,408.7C569.4,409.5 567.7,410.9 567,410.7C566.2,410.6 564.8,408.5 565,407.7ZM528,405.7C528.6,404.7 530.9,403.4 531.8,403.7C532.7,404 533.7,406.5 533.6,407.7C533.4,409 531.9,410.9 531.1,411.2C530.2,411.5 529,410.4 528.5,409.5C528,408.6 527.5,406.7 528,405.7ZM718.1,176.5C719.2,174.9 721.9,174.7 723.2,175.8C724.4,176.8 725.5,180.4 725.7,182.8C725.9,185.2 725.5,188.3 724.4,190.4C723.4,192.4 720.9,195 719.4,195.4C717.9,195.8 716,194.5 715.6,192.9C715.2,191.2 716.5,188 716.9,185.3C717.3,182.6 717.1,178.1 718.1,176.5ZM720.7,228C720.2,225.9 723.2,221.3 724.4,218C725.7,214.6 726.3,210.9 728.2,207.9C730.1,205 733.2,202.7 735.7,200.4C738.2,198.1 740.8,196 743.3,194.1C745.8,192.2 748.5,190.6 750.8,189.1C753.1,187.6 755.4,185.5 757.1,185.3C758.8,185.1 760.6,186.4 760.9,187.8C761.1,189.3 760,192 758.3,194.1C756.7,196.2 753.3,198.3 750.8,200.4C748.3,202.5 745.8,204.6 743.3,206.7C740.8,208.8 737.8,210.7 735.7,213C733.6,215.3 732.2,217.6 730.7,220.5C729.2,223.4 728.6,229.3 726.9,230.6C725.3,231.8 721.1,230.1 720.7,228ZM640.3,245.6C640.9,244.7 645.3,244 647.8,243.6C650.3,243.2 653.7,241.9 655.3,243.1C656.9,244.3 657.5,248.1 657.3,250.7C657.1,253.2 655.2,255.9 654.1,258.2C652.9,260.5 651.8,263.6 650.3,264.5C648.8,265.3 645.9,264.7 645.3,263.2C644.6,261.8 646.7,258 646.5,255.7C646.3,253.4 645.1,251.1 644,249.4C643,247.7 639.6,246.6 640.3,245.6ZM700.6,240.6C701.8,238.3 705.6,239.8 708.1,239.3C710.6,238.9 713.1,239.1 715.6,238.1C718.1,237 721.1,233.7 723.2,233.1C725.3,232.4 726.7,233.1 728.2,234.3C729.7,235.6 731.1,238.3 732,240.6C732.8,242.9 733.4,245.6 733.2,248.1C733,250.7 732,253.8 730.7,255.7C729.4,257.6 728.2,259 725.7,259.4C723.2,259.9 719,258.6 715.6,258.2C712.3,257.8 708.1,257.8 705.6,256.9C703.1,256.1 701.4,255.9 700.6,253.2C699.7,250.4 699.3,242.9 700.6,240.6ZM634.7,324C634.9,322.5 637.6,320.2 639,319.8C640.4,319.4 642.6,320.3 643.3,321.5C643.9,322.8 643.7,326.1 642.8,327.3C641.8,328.6 639.1,329.6 637.7,329.1C636.4,328.5 634.5,325.6 634.7,324ZM660.4,331.6C661,330.3 665.2,328.7 667.9,327.8C670.6,327 674.9,326.1 676.7,326.6C678.4,327.1 679.1,329.6 678.4,330.8C677.8,332.1 675.3,333.3 672.9,334.1C670.5,334.8 666.2,335.8 664.1,335.4C662,334.9 659.7,332.8 660.4,331.6ZM655.8,353.4C656.2,352.5 658.8,351.1 660.4,350.9C661.9,350.8 664.2,351.6 664.9,352.4C665.5,353.3 665.3,355.2 664.1,356C662.9,356.7 659.2,357.1 657.8,356.7C656.5,356.3 655.4,354.4 655.8,353.4ZM600.1,359.2C600.5,357.9 603.2,354.7 605.1,352.9C607,351.1 610,348.6 611.4,348.4C612.7,348.2 613.5,350.3 613.1,351.7C612.7,353.1 610.6,355.2 608.8,356.7C607.1,358.3 604,360.6 602.6,361C601.1,361.4 599.6,360.6 600.1,359.2ZM629.7,375.6C630.2,374 632,371.4 633.2,371C634.5,370.6 636.5,371.7 637.2,373C638,374.4 638.3,377.9 637.7,379.3C637.2,380.8 635.2,381.7 634,381.8C632.7,382 630.9,381.1 630.2,380.1C629.5,379 629.2,377.1 629.7,375.6ZM654.1,361.7C655.7,360.1 659.7,358.9 662.9,358C666,357 669.8,356 672.9,356C676.1,355.9 679.6,356.5 681.7,357.5C683.8,358.4 685.3,360 685.5,361.7C685.7,363.5 684.2,365.7 683,368C681.7,370.3 679,373 677.9,375.6C676.9,378.1 675.4,382.5 676.7,383.1C677.9,383.7 683.4,380.2 685.5,379.3C687.6,378.5 688.8,377.4 689.2,378.1C689.7,378.7 689.9,381.4 688,383.1C686.1,384.8 680.9,386 677.9,388.1C675,390.2 672.5,393.8 670.4,395.7C668.3,397.5 667.5,397.7 665.4,399.4C663.3,401.1 660.4,403 657.8,405.7C655.3,408.4 652.6,412.4 650.3,415.8C648,419.1 645.7,423.4 644,425.8C642.3,428.2 640.9,429.4 640.3,430.1L627.7,430.1C627.1,428.5 624.3,423.6 623.9,420.8C623.5,418 623.9,415.1 625.2,413.2C626.4,411.4 629.6,409.7 631.5,409.5C633.3,409.3 635,412.2 636.5,412C637.9,411.8 639,409.9 640.3,408.2C641.5,406.5 642.6,404.4 644,401.9C645.5,399.4 647.6,396.1 649,393.1C650.5,390.2 652,387.3 652.8,384.3C653.7,381.4 654.1,378.3 654.1,375.6C654.1,372.8 652.8,370.3 652.8,368C652.8,365.7 652.4,363.4 654.1,361.7ZM689.2,302.7C689.5,301.7 692.1,301.1 693,301.4C694,301.8 695.2,303.7 695,304.7C694.8,305.7 692.7,307.5 691.8,307.2C690.8,306.9 689,303.7 689.2,302.7ZM504,427.9L504,420.1C505.5,420.1 511,419.4 513,420.1C514.9,420.7 515.9,422.6 515.5,423.8C515.1,425 512.4,426.4 510.5,427.1C508.5,427.8 505,427.8 504,427.9ZM504,456.5L504,445.5C505,445.9 508.5,446.7 510.5,447.7C512.4,448.7 514.1,450 515.5,451.5C516.8,452.9 520.4,455.6 518.5,456.5C516.6,457.3 506.4,456.5 504,456.5ZM580.8,445.2C581.2,442.5 583.3,440.6 585.8,438.9C588.3,437.2 592.5,436.6 595.9,435.1C599.2,433.7 603,431.6 605.9,430.1C608.9,428.6 611.1,427.4 613.5,426.3C615.8,425.3 618.9,424.2 620,423.8L620,457.7C618.5,457.5 614.1,456.5 611,456.5C607.8,456.5 604.3,457.3 600.9,457.7C597.6,458.2 593.8,459.4 590.9,459C587.9,458.6 585,457.5 583.3,455.2C581.6,452.9 580.4,447.9 580.8,445.2ZM588.3,470.3C588.8,468.8 592.9,467.3 595.9,466.5C598.8,465.8 602.6,465.4 605.9,465.8C609.3,466.2 613.6,468.1 616,469C618.3,470 619.3,471.1 620,471.6L620,485.4C618.5,484.5 614.1,481.7 611,480.4C607.8,479 603.8,478.1 600.9,477.3C598,476.6 595.5,477 593.4,475.8C591.3,474.7 587.9,471.9 588.3,470.3ZM623.9,410L657.8,410C657.6,410.8 657.8,412.9 656.6,415C655.3,417.1 652.4,420.3 650.3,422.6C648.2,424.9 645.9,426.8 644,428.8C642.1,430.9 640.7,432.8 639,435.1C637.3,437.4 635.4,441 634,442.7C632.5,444.3 631.9,445.6 630.2,445.2C628.5,444.8 625.2,442.2 623.9,440.2C622.7,438.1 622.5,435.1 622.7,432.6C622.9,430.1 624.3,427.6 625.2,425.1C626,422.6 627.9,420.1 627.7,417.5C627.5,415 624.5,411.3 623.9,410ZM590,430.1C591.3,429.7 595,428.6 597.5,427.6C600.1,426.5 602.6,424.9 605.1,423.8C607.6,422.8 610.5,421.5 612.6,421.3C614.7,421.1 616.4,421.3 617.6,422.6C618.9,423.8 619.9,426.8 620.2,428.8C620.4,430.9 619.7,433 618.9,435.1C618.1,437.2 614.9,439.7 615.1,441.4C615.3,443.1 618.5,444.1 620.2,445.2C621.8,446.2 624.8,446.4 625.2,447.7C625.6,448.9 624.3,452.1 622.7,452.7C621,453.3 617.6,451.2 615.1,451.5C612.6,451.7 610.1,453.1 607.6,454C605.1,454.8 603,455.9 600.1,456.5C597.1,457.1 591.7,457.5 590,457.7L590,430.1ZM590,466.5C591.3,466.3 594.6,465.3 597.5,465.3C600.5,465.3 604.7,465.7 607.6,466.5C610.5,467.4 613,469 615.1,470.3C617.2,471.6 619.5,472.6 620.2,474.1C620.8,475.5 619.9,477.2 618.9,479.1C617.8,481 615.5,484.7 613.9,485.4C612.2,486 610.7,484.3 608.8,482.9C607,481.4 604.9,478 602.6,476.6C600.3,475.1 597.1,474.2 595,474.1C592.9,473.9 590.8,475.5 590,475.8L590,466.5ZM644,496.7C644.9,494.8 646.5,492.1 647.8,491.7C649,491.2 650.5,492.5 651.6,494.2C652.6,495.8 653.2,499.2 654.1,501.7C654.9,504.2 656.6,506.9 656.6,509.2C656.6,511.5 655.3,513.9 654.1,515.5C652.8,517.2 650.8,519.1 649,519.3C647.2,519.5 644.5,518.2 643.3,516.8C642,515.3 641.6,512.8 641.5,510.5C641.4,508.2 642.3,505.3 642.8,503C643.2,500.7 643.2,498.6 644,496.7ZM107,508.1C107.9,506.9 109.8,505.5 111.4,504.6C113,503.6 114.9,503.2 116.7,502.5C118.4,501.7 120.2,501.1 122,500.2C123.7,499.2 125.5,498 127.2,496.6C129,495.3 130.8,493.7 132.5,492.2C134.3,490.8 135.8,489.2 137.8,487.8C139.9,486.5 142.5,485.4 144.8,484.3C147.2,483.3 149.7,482.2 151.9,481.7C154.1,481.2 156.4,480.9 158.1,481.3C159.7,481.8 160.9,482.9 161.6,484.3C162.2,485.7 162.4,488 162.1,489.6C161.8,491.2 159.8,492.7 159.8,494C159.9,495.3 162.3,496.5 162.5,497.5C162.6,498.6 161.6,499.6 160.7,500.2C159.8,500.8 158.2,500.3 157.2,501C156.1,501.8 155.3,503.1 154.5,504.6C153.8,506 153.4,508.1 152.8,509.8C152.2,511.6 151.6,513.4 151,515.1C150.4,516.9 150,518.6 149.2,520.4C148.5,522.2 147.9,524.2 146.6,525.7C145.3,527.2 143.1,528 141.3,529.2C139.6,530.4 137.8,531.9 136,532.7C134.3,533.6 132.2,534.5 130.8,534.5C129.3,534.5 128.1,533.6 127.2,532.7C126.4,531.9 126.5,530.1 125.5,529.2C124.5,528.3 122.6,528 121.1,527.5C119.6,526.9 117.6,526.4 116.7,525.7C115.8,525 116.7,523.9 115.8,523.1C114.9,522.2 112.7,521.4 111.4,520.4C110.1,519.4 108.8,518.4 107.9,516.9C107,515.4 106.3,513.1 106.1,511.6C106,510.1 106.1,509.3 107,508.1ZM491.6,270.5C492.1,269.3 494.8,267.5 496.1,266C497.5,264.5 498.9,262.9 499.9,261.4C501,259.9 500.8,257.9 502.2,256.9C503.6,255.9 506,255.6 508.3,255.3C510.6,255.1 513.6,255.1 515.9,255.3C518.1,255.6 520.3,256.1 521.9,256.9C523.6,257.6 524.9,258.6 525.7,259.9C526.5,261.2 526.7,262.7 526.8,264.5C526.9,266.2 526.6,268.8 526.5,270.5C526.4,272.3 526.8,273.9 526.2,275.1C525.6,276.2 523.9,276.3 522.7,277.4C521.5,278.4 520.3,279.9 518.9,281.1C517.5,282.4 516.1,283.9 514.4,284.9C512.6,286 510.1,287.2 508.3,287.2C506.5,287.2 505.1,286.2 503.7,284.9C502.3,283.7 501.2,281.1 499.9,279.6C498.7,278.1 497.3,276.8 496.1,275.8C495,274.8 493.9,274.4 493.1,273.6C492.4,272.7 491.1,271.8 491.6,270.5Z"/>
<path fill="#e4e4e4" d="M200.3,146.2C202.6,145.1 207.7,147.6 211.7,148.5C215.8,149.4 219.9,150.5 224.6,151.6C229.4,152.6 237.4,153.5 240.1,155C242.8,156.6 241.2,158.9 241,160.7C240.8,162.4 240.1,164.8 239,165.7C238,166.5 236,166.1 234.5,165.7C233,165.2 231.6,164 229.9,162.9C228.3,161.8 226.4,159.1 224.6,159.1C222.9,159.1 221,161.3 219.3,162.9C217.6,164.6 215.3,167 214.3,169C213.3,171 213,172.7 213.6,175.1C214.1,177.5 215.9,180.9 217.3,183.4C218.8,186 221.9,188 222.4,190.3C222.8,192.5 220.8,194.8 220.1,197.1C219.3,199.4 218.8,202.5 217.8,203.9C216.8,205.3 215.3,205.3 214,205.4C212.7,205.6 211,205.9 209.8,204.7C208.5,203.4 207.6,200.2 206.4,197.8C205.2,195.4 203.8,192.5 202.6,190.3C201.5,188 200.6,186.2 199.6,184.2C198.6,182.2 197.2,179.9 196.6,178.1C195.9,176.3 195.8,175.8 195.8,173.6C195.8,171.3 196.2,167.5 196.6,164.5C196.9,161.4 197.4,158.4 198.1,155.3C198.7,152.3 198.1,147.4 200.3,146.2ZM351.2,167.3C357.8,165.8 383.6,167.3 390,167.3L390,226.8L374.4,226.8C374.2,226.7 374.9,226.9 373.2,226.2C371.5,225.5 367.1,223.8 364.1,222.7C361,221.6 358,220.6 355,219.7C351.9,218.8 347.9,218.3 345.9,217.4C343.8,216.5 343.6,215.9 342.8,214.4C342,212.8 341.4,210.6 341,208.3C340.6,206 340.5,203.2 340.6,200.7C340.6,198.2 340.7,195.1 341.3,193.1C342,191.1 343.3,190.3 344.4,188.6C345.4,186.8 346.4,184.5 347.4,182.5C348.4,180.5 349.8,178.9 350.4,176.4C351.1,173.9 344.6,168.8 351.2,167.3ZM479.1,443.6C479.7,441.9 480.9,440.5 482.1,439.8C483.4,439 485.4,438.6 486.7,439C487.9,439.4 489.1,440.5 489.7,442C490.3,443.6 490.5,446.1 490.5,448.1C490.5,450.1 489.6,452.2 489.7,454.2C489.8,456.2 491.2,458.4 491.2,460.3C491.2,462.1 491,464.5 489.7,465.6C488.4,466.6 485.4,466.7 483.6,466.3C481.9,465.9 480.1,465.1 479.1,463.3C478.1,461.5 477.7,458 477.6,455.7C477.4,453.4 478.1,451.7 478.3,449.6C478.6,447.6 478.4,445.2 479.1,443.6ZM413.1,473.9C412.8,472.4 414.2,469.6 415.3,467.8C416.5,466.1 418.1,464.5 419.9,463.3C421.7,462 423.7,460.6 426,460.3C428.2,459.9 431.3,460.3 433.6,461C435.8,461.8 437.6,463.9 439.6,464.8C441.7,465.7 443.9,466.6 445.7,466.3C447.5,466.1 448.5,464 450.3,463.3C452,462.5 454.5,461.5 456.3,461.8C458.1,462 460,463.3 460.9,464.8C461.8,466.3 461.9,468.8 461.6,470.9C461.4,472.9 460.7,475.3 459.4,476.9C458,478.6 455.6,480 453.3,480.7C451,481.5 448.2,481.6 445.7,481.5C443.2,481.4 440.6,480.4 438.1,480C435.6,479.6 433.1,479.6 430.5,479.2C428,478.8 425.2,478.1 422.9,477.7C420.7,477.3 418.5,477.6 416.9,476.9C415.2,476.3 413.3,475.4 413.1,473.9Z"/>
<path fill="#fdcc8a" d="M93.1,221.1C93.3,219.6 94.7,217.5 96.1,216.1C97.4,214.7 99.2,213.7 101.1,212.6C102.9,211.5 105.4,210.6 107.2,209.6C108.9,208.6 110.2,207.1 111.6,206.6C112.9,206 114.2,205.7 115.2,206.1C116.2,206.5 117,207.5 117.6,208.7C118.3,209.8 118.8,211.7 119.2,213.1C119.5,214.5 119.2,215.9 119.6,217.2C120,218.4 120.8,220.3 121.7,220.7C122.7,221.1 124,220.4 125.2,219.6C126.5,218.8 128.2,217.4 129.2,216.1C130.2,214.8 130.8,213.6 131.3,211.9C131.8,210.1 131.8,207.7 132.4,205.8C132.9,203.9 133.5,202.1 134.3,200.5C135.1,198.9 136,197.5 137.1,196.4C138.1,195.3 139.4,194.5 140.7,194C142,193.4 143.5,193 144.8,193.1C146.1,193.1 147.6,193.5 148.7,194.1C149.9,194.8 150.9,195.9 151.9,197C153,198.1 154,199.4 155.1,200.5C156.2,201.6 157.2,202.5 158.6,203.5C160,204.5 161.9,205.8 163.5,206.6C165,207.3 166.6,207.9 167.9,207.9C169.1,208 170.1,207.4 171,206.9C172,206.3 172.7,205.2 173.6,204.7C174.5,204.3 175.4,204 176.4,204C177.3,203.9 178.6,204.3 179.2,204.4C179.9,204.6 180.1,204.8 180.3,204.8L180.3,265.3L91.1,265.3C91.1,262 90.7,249.3 91.1,245.3C91.4,241.3 92.4,242.3 93.1,241.3C93.7,240.3 94.4,240 95,239.2C95.7,238.3 96.5,237.5 97,236.3C97.5,235.1 98.1,233.4 98.1,232.2C98,231 97.1,230.3 96.5,229.2C96,228 95.1,226.6 94.6,225.2C94,223.9 92.8,222.6 93.1,221.1ZM285.3,165L285.3,205.3L223.7,205.3C224,204.6 224.6,202.4 225.4,200.9C226.2,199.4 227,197.6 228.4,196.3C229.8,195.1 231.8,194.2 233.7,193.3C235.6,192.4 238.3,191.8 239.8,191C241.3,190.3 242.2,189.6 242.5,188.7C242.9,187.8 242.1,188 242.1,185.7C242,183.4 242.4,178.4 242.2,175.1C242.1,171.8 241.6,169.3 241.3,166C241,162.7 233.2,155.5 240.6,155.3C247.9,155.2 277.9,163.4 285.3,165ZM179.7,171.2L179.7,142.1C181.4,142.6 187.5,143.8 189.7,144.7C191.9,145.7 192.6,146 192.8,147.8C192.9,149.5 191.5,152.8 190.5,155.3C189.5,157.9 187.7,160.4 186.7,162.9C185.7,165.5 185.6,169.1 184.4,170.5C183.2,171.9 180.5,171.1 179.7,171.2ZM192.8,205.3L180,205.3C180,205.2 179.4,204.6 180,204.4C180.7,204.1 183.1,204.6 184,203.9C184.8,203.2 185,201.1 185.3,200C185.7,198.8 185.4,197.8 185.9,196.9C186.5,196.1 187.6,195.2 188.5,195C189.4,194.7 190.8,194.9 191.5,195.6C192.3,196.2 192.8,197.8 193.2,199.1C193.6,200.3 193.9,202 193.8,203C193.8,204 193,204.9 192.8,205.3ZM178.9,141.2C179.9,140.4 180.1,141.5 180.3,141.6L180.3,171.6C180.1,171.6 180.2,171.7 178.9,171.6C177.7,171.5 174.9,170.7 172.8,170.8C170.8,171 168.4,171.5 166.8,172.4C165.1,173.2 164.1,175.8 163,176.1C161.8,176.5 160.6,175.4 159.9,174.6C159.3,173.9 158.5,172.9 158.9,171.6C159.3,170.3 161,168.6 162.2,167C163.4,165.5 165.3,164.3 166,162.5C166.8,160.7 166.1,158.2 166.8,156.4C167.4,154.6 168.5,153.5 169.8,151.9C171.1,150.2 172.8,148.3 174.4,146.6C175.9,144.8 177.9,142.1 178.9,141.2ZM284.7,225.2L284.7,160.2C293.2,161.4 327.3,164.6 336,167.3C344.7,170 336.5,173.4 336.8,176.4C337,179.5 337.7,182.5 337.5,185.5C337.4,188.6 336.6,191.8 336,194.6C335.4,197.4 334.6,199.9 333.7,202.2C332.8,204.5 332,206.5 330.7,208.3C329.4,210.1 327.7,211.6 326.1,212.8C324.6,214.1 323.4,215 321.6,215.9C319.8,216.8 317.3,217.9 315.5,218.1C313.8,218.4 312.5,217.9 311,217.4C309.5,216.9 308.2,215.7 306.4,215.1C304.6,214.5 302.4,213.7 300.3,213.6C298.3,213.5 296.2,214 294.3,214.4C292.4,214.7 289.2,214.9 289,215.6C288.7,216.2 290.9,217.5 292.8,218.1C294.7,218.8 298.1,218.9 300.3,219.7C302.6,220.4 305.1,221.8 306.4,222.7C307.7,223.6 308,224.9 308.3,225.3L285.1,225.3L284.7,225.2ZM352.3,225.3L349.2,225.3C349.4,225.3 349.9,225 350.4,225C350.9,225 352,225.3 352.3,225.3ZM180,205 285.4,205 285.4,290.4 180,290.4ZM285,225 385.4,225 385.4,310.4 285,310.4ZM385,257.6C386,257.4 388.8,256.7 391.1,256.1C393.3,255.5 396.4,254.5 398.7,253.8C400.9,253.2 403.3,252.1 404.7,252.3C406.1,252.6 406.5,253.8 407,255.3C407.5,256.9 407.1,259.5 407.8,261.4C408.4,263.3 409.5,265.2 410.8,266.7C412.1,268.2 413.8,269.6 415.3,270.5C416.9,271.4 418.6,271.5 419.9,272C421.2,272.5 421.7,272.9 422.9,273.6C424.2,274.2 426,275.7 427.5,275.8C429,276 430.4,274.9 432,274.3C433.7,273.7 435.7,272.4 437.4,272C439,271.7 440.8,271.8 441.9,272.3C443,272.9 444.2,274.1 444.2,275.1C444.2,276 443.2,277.4 441.9,278.1C440.6,278.9 438.2,279 436.6,279.6C434.9,280.3 433.1,280.9 432,281.9C431,282.9 431.3,284.6 430.5,285.7C429.8,286.8 428.4,287.6 427.5,288.7C426.6,289.9 425.6,291 425.2,292.5C424.8,294 425.6,296.3 425.2,297.8C424.8,299.4 424.1,300.9 422.9,301.6C421.8,302.4 419.8,301.8 418.4,302.4C417,303 415.7,304.2 414.6,305.4C413.5,306.7 412.1,309.1 411.6,310C411,310.8 411.2,310.4 411.1,310.4L385,310.4L385,257.6ZM75,265 180.4,265 180.4,350.4 75,350.4ZM285.5,290 285.5,375.5 179.5,375.5 179.5,290ZM285,310 385.5,310 385.5,395.5 285,395.5ZM385,310L411.6,310C411.3,310.6 410.8,312.7 410,313.8C409.3,314.9 408,315.7 407,316.8C406,318 404.7,319.2 404,320.6C403.2,322 402.5,323.4 402.5,325.2C402.5,326.9 403.7,329.2 404,331.2C404.2,333.3 403.9,335 404,337.3C404,339.6 404.5,342.4 404.4,344.9C404.3,347.4 403.9,350.3 403.2,352.5C402.5,354.6 401.4,356.4 400.2,357.8C398.9,359.2 397.1,360.1 395.6,360.8C394.1,361.6 392.3,362 391.1,362.4C389.8,362.7 389,363 388,363.1C387,363.2 385.5,363.1 385,363.1L385,310ZM385,370.7C386.3,370.8 390.1,371.1 392.6,371.5C395.1,371.8 397.9,372.3 400.2,373C402.5,373.6 404.8,374.2 406.2,375.3C407.7,376.3 408.5,377.8 409,379C409.5,380.3 409.7,381.8 409.3,382.8C408.8,383.9 407.5,384.9 406.2,385.6C405,386.2 403.2,386.2 401.7,386.6C400.2,387.1 398.5,387.3 397.1,388.1C395.7,389 394.1,390.7 393.3,391.9C392.5,393.2 392.5,394.9 392.3,395.5L385,395.5L385,370.7ZM75,349.5 180.5,349.5 180.5,445 75,445ZM179.4,475 179.4,375 285.6,375 285.6,475ZM285,395 385.6,395 385.6,495 285,495ZM385,395L391.1,395C390.9,395.8 390.1,398 390.3,399.6C390.6,401.1 391.2,402.5 392.6,404.1C394,405.7 396.6,408.2 398.7,409.4C400.7,410.7 403.2,410.8 404.7,411.7C406.2,412.6 407.5,413.7 407.8,414.7C408,415.7 407.5,416.9 406.2,417.8C405,418.6 402.2,419.3 400.2,420C398.2,420.8 395.9,421.2 394.1,422.3C392.3,423.5 390.6,425.3 389.6,426.9C388.5,428.4 387.8,430.1 388,431.4C388.3,432.7 389.3,433.9 391.1,434.8C392.8,435.6 395.9,436.3 398.7,436.7C401.4,437.2 405,437.2 407.8,437.5C410.5,437.7 413.1,438.2 415.3,438.2C417.6,438.2 419.6,437.9 421.4,437.5C423.2,437.1 424.2,436.1 426,436C427.7,435.8 430.4,436.2 432,436.7C433.7,437.2 435.3,437.9 435.8,439C436.3,440.1 435.7,442 435.1,443.6C434.4,445.1 433.1,446.6 432,448.1C431,449.6 430.3,451.4 429,452.7C427.7,453.9 425.7,454.7 424.5,455.7C423.2,456.7 422.4,457.5 421.4,458.7C420.4,460 419.4,461.8 418.4,463.3C417.4,464.8 416.6,466.1 415.3,467.8C414.1,469.6 412.3,472 410.8,473.9C409.3,475.8 407.4,477.6 406.2,479.2C405.1,480.9 403.7,483.4 404,483.8C404.2,484.2 405.9,482.3 407.8,481.5C409.7,480.7 412.8,479.7 415.3,479.2C417.9,478.7 420.4,478.3 422.9,478.5C425.5,478.6 428,479.3 430.5,480C433.1,480.6 435.6,481.6 438.1,482.3C440.6,482.9 443.4,483.9 445.7,483.8C448,483.6 449.7,482.6 451.8,481.5C453.8,480.4 456.1,478.7 457.8,476.9C459.6,475.2 461.1,472.4 462.4,470.9C463.7,469.4 464.2,468.2 465.4,467.8C466.7,467.5 468.2,468.2 470,468.6C471.7,469 473.8,470 476,470.1C478.3,470.2 481.1,469.2 483.6,469.4C486.2,469.5 488.7,470.4 491.2,470.9C493.8,471.4 496.5,472.3 498.8,472.4C501.1,472.5 504,471.8 505,471.6L505,495L385,495L385,395ZM300,494.1L420,494.1L420,520.1C419,521.1 415.7,524.4 413.8,526.1C411.9,527.9 410,529.6 408.5,530.4C407,531.2 408.6,530.8 404.7,530.7C400.8,530.6 389.5,530.6 385,529.9C380.4,529.3 391.6,527.4 377.4,526.9C363.2,526.4 312.9,526.9 300,526.9L300,494.1ZM504.5,481.6C505.3,478.6 507.3,480.6 509.1,480.8C510.9,481 513.1,482.2 515.2,482.6C517.2,483.1 519.8,483.1 521.2,483.5C522.6,484 522.2,482.9 523.5,485.3C524.8,487.8 532,496.1 528.8,498.2C525.6,500.4 508.6,501 504.5,498.2C500.5,495.5 503.8,484.5 504.5,481.6ZM419,518.7 419,494 445.3,494 445.3,518.7ZM723.7,234.3C724.4,232.5 726.5,232.5 727.7,233.6C728.9,234.6 730.1,238.2 730.7,240.6C731.3,243 731.6,245.8 731.2,248.1C730.8,250.4 729.3,253.8 728.2,254.4C727.1,255.1 725.3,253.6 724.4,251.9C723.6,250.2 723.3,247.3 723.2,244.4C723,241.4 722.9,236.1 723.7,234.3ZM657.3,363C659,361.4 662.6,360.8 665.4,360C668.2,359.1 671.7,358 674.2,358C676.7,358 679.2,358.7 680.5,360C681.7,361.2 682.1,363.5 681.7,365.5C681.3,367.5 679,369.7 677.9,371.8C676.9,373.9 675.6,376 675.4,378.1C675.2,380.2 677.1,382.3 676.7,384.3C676.3,386.4 674.6,388.5 672.9,390.6C671.2,392.7 668.7,395 666.6,396.9C664.5,398.8 662.4,399.8 660.4,401.9C658.3,404 656,406.8 654.1,409.5C652.2,412.2 650.7,415.5 649,418.3C647.4,421 645.7,423.8 644,425.8C642.3,427.8 639.8,429.4 639,430.1L631.5,430.1C631.2,429.2 629.4,426.3 630.2,424.5C631,422.8 634.8,421.4 636.5,419.5C638.2,417.6 638.8,415.5 640.3,413.2C641.7,410.9 643.6,408.4 645.3,405.7C647,403 648.8,399.8 650.3,396.9C651.8,394 653.1,391.3 654.1,388.1C655,385 655.6,381.2 655.8,378.1C656,374.9 655.1,371.8 655.3,369.3C655.6,366.8 655.7,364.5 657.3,363ZM585.8,446.4C586.8,445 590.4,443.7 593.4,442.7C596.3,441.6 600.1,441 603.4,440.2C606.8,439.3 611,437.8 613.5,437.6C616,437.4 617.7,437.8 618.5,438.9C619.3,439.9 619.7,442.5 618.5,443.9C617.2,445.4 613.9,446.6 611,447.7C608,448.7 603.8,449.4 600.9,450.2C598,451 595.5,452.5 593.4,452.7C591.2,452.9 589.1,452.5 587.8,451.5C586.6,450.4 584.9,447.9 585.8,446.4ZM634,422.6C634.8,421.1 638.2,420.3 640.3,418.8C642.3,417.3 644.9,415.2 646.5,413.8C648.2,412.3 649.7,410.6 650.3,410L657.3,410C657.1,410.9 657,413.6 655.8,415.5C654.7,417.4 652.3,419.5 650.3,421.3C648.3,423.1 645.9,424.7 644,426.3C642.1,428 640.5,431.1 639,431.4C637.5,431.6 636.1,429.1 635.2,427.6C634.4,426.1 633.1,424 634,422.6ZM590,446.4C591.3,446.2 595,445.9 597.5,445.2C600.1,444.5 602.6,443.3 605.1,442.2C607.6,441 610.5,438.6 612.6,438.1C614.7,437.7 616.7,438.7 617.6,439.6C618.6,440.6 619,442.6 618.1,443.9C617.3,445.3 614.8,446.6 612.6,447.7C610.4,448.7 607.6,449.4 605.1,450.2C602.6,451 600.1,451.7 597.5,452.2C595,452.7 591.3,453 590,453.2L590,446.4ZM644,509.2C644.2,508.2 645.7,506.7 646.5,506.7C647.4,506.7 648.8,508.2 649,509.2C649.3,510.3 648.9,512.4 648.3,513C647.7,513.6 646,513.6 645.3,513C644.6,512.4 643.8,510.3 644,509.2ZM145.7,510.7C146.2,509.6 146.8,508.2 147.5,507.7C148.2,507.3 149.4,507.3 150.1,508.1C150.9,508.9 151.7,511 151.9,512.5C152.1,514 152,515.6 151.5,516.9C151.1,518.2 150.2,519.4 149.2,520.1C148.3,520.7 146.6,521.1 145.7,520.8C144.8,520.4 144.2,518.9 144,517.8C143.8,516.7 144.2,515.4 144.5,514.2C144.8,513.1 145.2,511.8 145.7,510.7Z"/>
<path fill="#fef0d9" d="M195.2,205L217.9,205C217.6,205.8 215.9,208 215.7,209.6C215.4,211.1 215.5,212.8 216.4,214.1C217.3,215.4 220.3,215.9 221,217.1C221.6,218.4 221.1,220.6 220.2,221.7C219.3,222.8 217.3,224.2 215.7,224C214,223.7 212.2,221.8 210.3,220.2C208.5,218.5 206,215.9 204.3,214.1C202.5,212.3 201.2,211.1 199.7,209.6C198.2,208 195.9,205.8 195.2,205ZM269.5,225.5C271,224 274.3,223.6 277.1,223.2C279.9,222.8 284.7,223.2 286.2,223.2C287.7,223.2 286.3,223.2 286.3,223.2L286.3,273.1C285.7,273 284.3,273.3 283.2,272.5C282,271.8 280.4,270.4 279.4,268.7C278.4,267.1 277.7,264.9 277.1,262.7C276.5,260.4 276.4,257.6 275.6,255.1C274.8,252.5 273.6,250 272.6,247.5C271.6,245 270.3,242.4 269.5,239.9C268.8,237.4 268,234.7 268,232.3C268,229.9 268,227 269.5,225.5Z"/>
<path fill="#e4e4e4" d="M279.4,258.9C280.4,257 285,256.3 286.2,255.8C287.5,255.3 286.8,255.8 286.9,255.8L286.9,271.4C286.5,271.4 285.8,271.7 284.7,271C283.6,270.3 281,269.2 280.2,267.2C279.3,265.2 278.4,260.8 279.4,258.9Z"/>
<path fill="#fef0d9" d="M285,228C286.3,228.3 290.6,228.5 292.6,229.6C294.6,230.6 296,232.1 297.1,234.1C298.3,236.1 298.4,239.4 299.4,241.7C300.4,244 301.6,245.5 303.2,247.8C304.9,250 307.8,252.8 309.3,255.3C310.8,257.9 312.1,260.7 312.3,262.9C312.6,265.2 312.3,267.5 310.8,269C309.3,270.5 306,271.3 303.2,272C300.4,272.8 297.1,273.4 294.1,273.6C291.1,273.7 286.5,272.9 285,272.8L285,228Z"/>
<path fill="#e4e4e4" d="M285,261.4C286.5,261.4 291.1,261 294.1,261.1C297.1,261.2 301.1,261.5 303.2,262.2C305.3,262.9 306.3,264.1 306.5,265.2C306.8,266.4 306.3,268.2 304.7,269C303.2,269.8 300.4,269.8 297.1,269.9C293.9,270 287,269.8 285,269.8L285,261.4Z"/>
<path fill="#fef0d9" d="M307.8,225L337.4,225C337.1,226.3 336.3,230.2 335.8,232.6C335.4,235 335.9,237.9 334.8,239.4C333.6,240.9 331.2,241.7 329,241.7C326.8,241.7 323.9,240 321.4,239.4C318.9,238.8 315.6,238.8 313.8,237.9C312.1,237 311.6,235.5 310.8,234.1C310,232.7 309.8,231.1 309.3,229.6C308.8,228 308,225.8 307.8,225ZM336.6,225L350.4,225C349.1,225.4 344.8,226.3 342.8,227.3C340.8,228.3 339.3,229.9 338.3,231.1C337.2,232.3 336.9,235.4 336.6,234.4C336.3,233.4 336.6,226.6 336.6,225ZM359.4,225L380.3,225C380.3,226.5 381,233 380.3,234.1C379.6,235.2 377.8,232.5 376,231.8C374.3,231.1 372,230.6 370,229.9C368,229.1 365.7,228.1 363.9,227.3C362.1,226.5 360.1,225.4 359.4,225ZM339.6,261.4C340,260.5 341.9,259.3 344.2,259.1C346.5,258.9 350.3,259.7 353.3,260.2C356.3,260.7 359.9,261.3 362.4,262.2C364.9,263 367.7,264.2 368.5,265.2C369.2,266.2 368.7,267.9 366.9,268.2C365.2,268.6 360.9,267.9 357.8,267.5C354.8,267.1 351.4,266.5 348.7,266C346.1,265.5 343.4,265.2 341.9,264.5C340.4,263.7 339.2,262.3 339.6,261.4ZM351.8,281.9C351.6,281 353.5,279.1 354.8,278.1C356.1,277.1 358.1,276 359.4,275.8C360.6,275.7 362.3,276.6 362.4,277.4C362.5,278.1 361.3,279.4 360.1,280.4C359,281.4 357,283.2 355.6,283.4C354.2,283.7 351.9,282.8 351.8,281.9ZM320.2,284.2C320.3,283 321.6,281.8 322.9,281.1C324.3,280.5 326.9,280.1 328.2,280.4C329.6,280.6 330.9,281.7 331.3,282.7C331.7,283.7 331.3,285.4 330.5,286.5C329.8,287.5 328.1,288.5 326.7,288.7C325.3,289 323.3,288.7 322.2,288C321.1,287.2 320.1,285.3 320.2,284.2ZM294.1,297.8C296.1,296.7 301.2,296.8 304.7,297.1C308.3,297.3 312.7,298.5 315.3,299.4C318,300.2 319.6,300.9 320.7,302.4C321.7,303.9 321.4,307 321.4,308.5C321.5,309.9 320.9,310.8 320.9,311.3L295.5,311.3C295.1,310.1 292.8,306.2 292.6,303.9C292.3,301.7 292.1,299 294.1,297.8Z"/>
<path fill="#e4e4e4" d="M300.2,301.6C300.4,300.4 302.6,299.5 304,299.4C305.4,299.2 307.6,299.8 308.5,300.6C309.5,301.3 309.8,302.8 309.6,303.9C309.3,305 308.2,306.7 307,307.2C305.8,307.8 303.6,307.9 302.5,306.9C301.3,306 299.9,302.9 300.2,301.6Z"/>
<path fill="#fef0d9" d="M377.6,225L386.3,225L386.3,259.8C385.9,260 384.7,261.2 383.6,261.4C382.6,261.6 380.8,262.3 379.8,261.1C378.9,260 378,256.4 377.9,254.6C377.7,252.7 378.3,251.7 378.8,250C379.3,248.4 380.4,246.6 380.9,244.7C381.4,242.8 381.9,240.8 381.8,238.7C381.7,236.5 381,234.1 380.3,231.8C379.6,229.6 378,226.1 377.6,225Z"/>
<path fill="#e4e4e4" d="M382.1,225L386.9,225L386.9,246C386.6,245 385.6,242.4 385.2,240.2C384.7,237.9 384.4,235.1 383.9,232.6C383.4,230.1 382.4,226.3 382.1,225Z"/>
<path fill="#fef0d9" d="M294.1,310L321.4,310C321.7,311 322.6,313.8 322.9,316.1C323.2,318.3 323.5,321.6 323.2,323.7C323,325.7 322.4,326.7 321.4,328.2C320.5,329.7 318,331.2 317.6,332.8C317.2,334.3 318.3,336 319.1,337.3C320,338.6 321.8,339.1 322.9,340.3C324,341.6 325.4,343.4 325.7,344.9C325.9,346.4 325.4,348.4 324.5,349.5C323.5,350.5 321.4,351.3 319.9,351.3C318.4,351.3 316.5,350.5 315.3,349.5C314.2,348.4 313.3,346.5 313.1,344.9C312.8,343.3 314.2,341.1 313.8,339.6C313.5,338.1 312.3,336.7 310.8,335.8C309.3,334.9 306.5,335.3 304.7,334.3C303,333.3 301.2,331.5 300.2,329.7C299.2,328 299.2,325.7 298.7,323.7C298.2,321.6 297.9,319.9 297.1,317.6C296.4,315.3 294.6,311.3 294.1,310ZM384.4,326.7C384.6,325.9 386.1,325 386.4,324.7L386.4,331C386.2,330.8 385.5,330.4 385.2,329.7C384.8,329 384.2,327.5 384.4,326.7ZM391,530.7C390.2,529.4 391.8,526.5 392.3,524.6C392.8,522.7 393.3,520.6 394.1,519.3C394.9,518 396.2,516.8 397.1,516.7C398.1,516.7 399.3,517.5 399.8,518.9C400.4,520.2 400.2,522.8 400.5,524.6C400.7,526.5 401.9,528.7 401.4,529.9C400.8,531.2 398.8,532.1 397.1,532.2C395.4,532.3 391.9,532 391,530.7ZM384.8,325.7C385,324.7 386,323.9 387,323.7C388.1,323.5 389.7,323.9 390.8,324.6C392,325.3 392.7,327 393.9,327.9C395,328.9 396.3,330.1 397.7,330.2C399.1,330.3 400.8,329.5 402.2,328.7C403.6,327.9 405.1,325.8 406,325.7C406.9,325.5 407.7,326.8 407.5,327.9C407.4,329.1 405.9,331 405.3,332.5C404.6,334 404.5,335.8 403.7,337C403,338.3 402,339.8 400.7,340.1C399.4,340.3 397.5,339.1 396.1,338.6C394.8,338.1 393.6,337.9 392.4,337C391.1,336.2 389.7,334.5 388.6,333.2C387.4,332 386.2,330.7 385.5,329.5C384.9,328.2 384.5,326.6 384.8,325.7Z"/>
<path fill="#fc8d59" d="M80,248.3C80.9,248.3 83.5,249.1 85.3,248.6C87.1,248.1 88.9,246.3 90.6,245.3C92.4,244.2 94.4,243.4 95.9,242.2C97.5,241.1 98.6,239.9 99.7,238.4C100.9,236.9 102.1,235 102.8,233.1C103.4,231.2 103.5,228.8 103.5,227C103.5,225.3 102.5,223.9 102.8,222.5C103,221.1 103.9,219.6 105,218.7C106.2,217.8 108.1,217.2 109.6,217.2C111.1,217.2 112.9,217.7 114.1,218.7C115.4,219.7 116.4,221.9 117.2,223.2C117.9,224.6 117.8,226.7 118.7,227C119.6,227.4 121.1,226.5 122.5,225.5C123.9,224.5 125.6,222.6 127,221C128.4,219.3 129.9,217.7 130.8,215.7C131.7,213.6 131.9,210.7 132.4,208.8C132.8,207 133,205.8 133.4,204.4C133.8,203.1 134.3,201.8 134.9,200.6C135.6,199.5 136.4,198.3 137.4,197.5C138.3,196.6 139.5,196 140.7,195.8C141.9,195.5 143.2,195.5 144.5,195.9C145.8,196.4 147,197.5 148.3,198.5C149.5,199.5 150.7,201 151.9,202.2C153.2,203.3 154.6,204.6 155.9,205.6C157.2,206.7 158.4,207.5 159.7,208.2C160.9,208.9 162.1,209.4 163.5,209.9C164.8,210.3 166.5,211.1 167.9,211C169.2,210.9 170.3,209.9 171.4,209.3C172.4,208.7 173,207.7 173.9,207.2C174.9,206.7 175.9,206.3 177,206.3C178,206.3 179.6,207 180.2,207.2C180.7,207.3 180.3,207.2 180.3,207.3L180.3,265.3L80,265.3L80,248.3ZM241.9,155.8C249,154.9 278.1,163.7 285.3,165.2L285.3,197.8C284.8,198.5 284.1,200.5 282.3,201.6C280.5,202.8 276.2,204.1 274.7,204.7C273.2,205.3 273.6,205.2 273.4,205.3L242.8,205.3C242.7,205.1 242.1,205.4 242.1,203.9C242,202.4 242.2,198.8 242.5,196.3C242.9,193.8 244.2,191 244.4,188.7C244.5,186.5 243.8,185.7 243.6,182.7C243.3,179.6 243.1,175 242.8,170.5C242.6,166 234.8,156.7 241.9,155.8ZM192.3,205.3L185.5,205.3C185.6,205.2 185.9,205.2 185.9,204.4C186,203.6 185.6,201.7 185.6,200.6C185.7,199.4 185.9,198.4 186.4,197.5C186.9,196.7 187.9,195.8 188.7,195.6C189.5,195.4 190.5,195.7 191.2,196.3C192,196.9 192.6,198 192.9,199.1C193.2,200.1 193.3,201.8 193.2,202.8C193.1,203.9 192.5,204.9 192.3,205.3ZM284.7,198.2L284.7,160.9C288.4,161.6 303.4,164 307.2,165C310.9,166.1 307.3,165.7 307.2,167.3C307.1,169 307.3,172.8 306.4,174.9C305.5,177.1 303.6,178.7 301.9,180.2C300.1,181.7 297.8,183 295.8,184C293.8,185 291.4,185.3 289.7,186.3C288.1,187.3 286.7,188.4 285.9,190.1C285.2,191.7 285.4,194.8 285.2,196.1C285,197.5 284.7,197.9 284.7,198.2ZM180,205L192.4,205C192.1,205.6 190.8,207.5 190.2,208.8C189.5,210.1 188.8,211.3 188.6,212.6C188.5,213.9 189.6,215 189.6,216.4C189.6,217.8 188.7,219.7 188.6,220.9C188.6,222.2 189.8,223 189.4,224C189,225 187.2,225.9 186.4,227C185.6,228.1 185,229.4 184.6,230.8C184.1,232.2 184,233.1 183.8,235.3C183.5,237.6 182.7,241.7 183,244.5C183.4,247.2 184.6,250.1 186.1,252C187.6,253.9 189.9,254.9 192.1,255.8C194.4,256.7 196.7,256.8 199.7,257.4C202.8,257.9 207.1,258.4 210.3,258.9C213.6,259.4 216.7,259.9 219.5,260.4C222.2,260.9 224.8,261.9 227,261.9C229.3,261.9 231.1,261.3 233.1,260.4C235.1,259.5 237.4,257.6 239.2,256.6C241,255.6 242.3,255.3 243.7,254.3C245.1,253.3 246.9,251.9 247.5,250.5C248.2,249.1 248.2,247.3 247.5,246C246.9,244.7 245.4,243.3 243.7,242.6C242.1,242 239.4,241.9 237.7,242.2C235.9,242.5 234.4,243.4 233.1,244.5C231.8,245.5 231.3,247.1 230.1,248.2C228.8,249.4 227.5,250.5 225.5,251.3C223.5,252 220.5,252.8 217.9,252.8C215.4,252.8 212.6,252.2 210.3,251.3C208.1,250.4 205.8,249.1 204.3,247.5C202.8,245.8 201.6,243.4 201.2,241.4C200.9,239.4 201.2,236.9 202,235.3C202.8,233.8 204.2,232.9 205.8,232.3C207.4,231.8 209.8,231.6 211.9,232C213.9,232.4 216.2,234.4 217.9,234.6C219.7,234.8 221,234 222.5,233.1C224,232.2 225.5,230.3 227,229.3C228.6,228.3 229.3,227.6 231.6,227C233.9,226.4 237.9,226.1 240.7,225.9C243.5,225.8 246.3,225.6 248.3,225.9C250.3,226.2 251.1,226.4 252.8,227.8C254.6,229.1 257.1,231.3 258.9,233.8C260.7,236.4 261.9,239.9 263.5,242.9C265,246 266.7,249 268,252C269.3,255.1 270.3,258.4 271,261.1C271.8,263.9 272.6,266.7 272.6,268.7C272.6,270.8 272.1,272 271,273.3C270,274.5 268,275.1 266.5,276.3C265,277.6 263.5,279.4 261.9,280.9C260.4,282.4 258.4,284 257.4,285.4C256.4,286.8 255.1,288.5 255.9,289.2C256.6,290 260.2,289.8 261.9,290C263.7,290.2 265.8,290.3 266.5,290.4L180,290.4L180,205ZM242.2,205L274.1,205C273.8,205.5 274.1,207 272.6,207.7C271,208.4 268.3,208.9 265,209.2C261.7,209.6 256.1,209.7 252.8,209.6C249.5,209.4 247,209.1 245.3,208.3C243.5,207.6 242.7,205.6 242.2,205ZM300.2,240.2C300.6,239.5 302.1,238.2 303.2,237.9C304.3,237.6 306.3,237.8 307,238.4C307.7,238.9 308,240.3 307.5,240.9C307,241.6 305.1,242.3 304,242.5C302.9,242.6 301.6,242.4 300.9,242C300.3,241.6 299.8,240.9 300.2,240.2ZM351.8,243.2C352.3,241.8 353.5,239.4 354.8,237.9C356.1,236.4 357.6,234.9 359.4,234.1C361.1,233.3 363.4,232.9 365.4,232.9C367.4,232.9 369.6,233.5 371.5,234.1C373.4,234.7 375.7,235.5 376.8,236.4C377.9,237.3 378.4,238.3 378.3,239.4C378.2,240.6 376.9,241.8 376,243.2C375.2,244.6 373.3,246.2 373,247.8C372.8,249.3 374,250.8 374.5,252.3C375,253.8 376.2,255.4 376,256.9C375.9,258.3 374.8,260.7 373.8,261.1C372.8,261.5 371.4,260.1 370,259.1C368.6,258.2 367.2,256.4 365.4,255.3C363.7,254.3 361.3,254.1 359.4,253.1C357.5,252.1 355.4,250.4 354,249.3C352.7,248.1 351.8,247.3 351.5,246.2C351.1,245.2 351.2,244.6 351.8,243.2ZM315.3,272C316.1,270.6 317.8,269.7 319.1,269.3C320.5,268.9 322.8,269.1 323.7,269.8C324.6,270.5 324.9,272.2 324.8,273.6C324.6,274.9 323.7,276.8 322.9,278.1C322.2,279.4 320.9,279.9 320.2,281.1C319.5,282.4 318.8,284.1 318.7,285.7C318.6,287.3 319.6,289.4 319.6,291C319.5,292.6 319.1,294.5 318.4,295.1C317.7,295.7 316.1,295.6 315.3,294.8C314.6,294 314,292 313.8,290.3C313.6,288.5 314,286.2 314.1,284.2C314.3,282.2 314.4,280.1 314.6,278.1C314.8,276.1 314.6,273.5 315.3,272ZM285,290.6C286.3,290.5 290.2,290.3 292.6,290.3C295,290.3 297.9,290.2 299.4,290.6C300.9,290.9 301.7,291.8 301.7,292.5C301.7,293.2 300.9,294.4 299.4,294.8C297.9,295.2 295,295 292.6,295.1C290.2,295.2 286.3,295.5 285,295.6L285,290.6ZM365.4,280.4C365.7,279.4 367.2,276.9 368.5,275.8C369.7,274.7 371.2,273.9 373,273.9C374.8,273.9 377.3,275.1 379.1,275.8C380.9,276.5 382.6,277.8 383.6,278.1C384.7,278.4 385.1,277.6 385.4,277.5L385.4,285.3C384.9,285.1 383.7,284.2 382.1,284.2C380.6,284.1 377.8,285.1 376,284.9C374.3,284.8 373,283.9 371.5,283.4C370,282.9 368,282.4 366.9,281.9C365.9,281.4 365.2,281.4 365.4,280.4ZM385.4,298.2L385.4,310.4L353.7,310.4C353.7,310 354.2,308.5 354,307.7C353.9,306.9 353.4,305.7 352.5,305.4C351.6,305.2 350.1,305.9 348.7,306.2C347.3,306.4 345.2,306.2 344.2,306.9C343.1,307.6 342.7,309.8 342.4,310.4L335.8,310.4C335.9,310 337,308.5 336.6,307.7C336.2,306.9 334.9,305.9 333.6,305.4C332.2,305 329.9,305.2 328.2,305.1C326.6,305 324.6,305.1 323.7,304.7C322.8,304.3 322,303.4 322.6,302.7C323.3,302 325.4,301 327.5,300.6C329.6,300.1 332.5,300.3 335.1,300.1C337.6,299.9 340.9,300.1 342.7,299.4C344.4,298.6 344.4,296.6 345.7,295.6C347,294.5 348.5,293.5 350.3,293.3C352,293 354.5,293.5 356.3,294C358.1,294.5 359.4,295.4 360.9,296.3C362.4,297.2 363.7,298.5 365.4,299.4C367.2,300.2 369.5,301.1 371.5,301.6C373.5,302.1 375.5,302.5 377.6,302.4C379.6,302.3 382.3,301.6 383.6,300.9C384.9,300.2 385.1,298.6 385.4,298.2ZM385,273.6C385.8,273.2 388,271.8 389.6,271.3C391.1,270.8 392.3,270.4 394.1,270.5C395.9,270.6 398.2,271.6 400.2,272C402.2,272.5 404.5,273.3 406.2,273.3C408,273.3 409.4,272.7 410.8,272C412.2,271.3 413.3,269.5 414.6,269C415.9,268.5 417.2,268.5 418.4,269C419.5,269.5 420.4,270.6 421.4,272C422.4,273.4 423.2,276 424.5,277.4C425.7,278.7 427.7,279.4 429,280.4C430.3,281.4 432,282.3 432,283.4C432,284.6 430.3,286.3 429,287.2C427.7,288.1 426,288.3 424.5,288.7C422.9,289.2 421.4,289.7 419.9,289.9C418.4,290.2 416.9,289.9 415.3,290.3C413.8,290.6 412.1,290.9 410.8,291.8C409.5,292.7 408.8,294.3 407.8,295.6C406.8,296.8 405.5,298 404.7,299.4C404,300.7 403.3,302.4 403.2,303.9C403.1,305.4 404.3,307.4 404,308.5C403.7,309.5 401.9,310.1 401.5,310.4L385,310.4L385,273.6ZM75,265 180.4,265 180.4,350.4 75,350.4ZM285.5,290 285.5,375.5 179.5,375.5 179.5,290ZM332.8,316.1C333.4,314.4 334.8,312.5 335.8,311.5C336.8,310.5 338.4,310.3 338.9,310C339.5,310.1 341.9,309.7 342.7,310.8C343.4,311.8 343.4,314.2 343.4,316.1C343.4,318 343.3,320.5 342.7,322.1C342,323.8 340.9,325.4 339.6,325.9C338.4,326.4 336.3,325.9 335.1,325.2C333.9,324.4 332.7,322.9 332.3,321.4C332,319.9 332.2,317.7 332.8,316.1ZM354,310L383.6,310C383.8,311 384.4,314 384.4,316.1C384.3,318.1 383.7,320.4 383.3,322.1C383,323.9 382.8,325.3 382.1,326.7C381.4,328.1 380.3,329.5 379.1,330.5C377.8,331.5 376,332.6 374.5,332.8C373,332.9 371.5,331.9 370,331.2C368.5,330.6 366.9,329.7 365.4,329C363.9,328.2 362.1,327.7 360.9,326.7C359.6,325.7 358.6,324.4 357.8,322.9C357.1,321.4 357,319.7 356.3,317.6C355.7,315.4 354.4,311.3 354,310ZM285,336.6C285.8,336.5 288,336 289.6,336.1C291.1,336.2 292.5,336.7 294.1,337.3C295.7,337.9 297.9,338.7 299.4,339.6C300.9,340.5 302.2,341.2 303.2,342.6C304.2,344 304.7,346.2 305.5,347.9C306.2,349.7 306.8,351.7 307.8,353.2C308.8,354.8 310,356 311.6,357C313.1,358.1 315,358.8 316.9,359.3C318.8,359.8 320.9,360.1 322.9,360.1C325,360.1 327.4,359.9 329,359.3C330.6,358.7 331.9,357.4 332.8,356.3C333.7,355.1 334.3,353.8 334.3,352.5C334.3,351.2 333.4,349.7 332.8,348.7C332.2,347.7 330.6,347.1 330.5,346.4C330.4,345.7 331,344.8 332,344.6C333.1,344.4 334.8,344.9 336.6,345.2C338.4,345.5 340.9,346.1 342.7,346.4C344.4,346.7 346.1,347.6 347.2,347.2C348.4,346.8 349,345.4 349.5,344.1C350,342.9 349.9,340.7 350.3,339.6C350.6,338.5 351,337.4 351.8,337.3C352.5,337.2 353.8,338.2 354.8,338.8C355.8,339.5 356.3,340.9 357.8,341.1C359.4,341.4 361.6,340.3 363.9,340.3C366.2,340.3 369,341 371.5,341.1C374,341.2 376.8,341 379.1,341.1C381.4,341.2 384.1,341.5 385.2,341.9C386.2,342.3 385.4,343.3 385.5,343.6L385.5,365.7C385.4,365.9 385.2,366.6 385.2,366.9C385.2,367.2 385.4,367.4 385.5,367.5L385.5,395.5L285,395.5L285,336.6ZM385,310L409.3,310C409,310.5 408.8,312.1 407.8,313C406.8,313.9 405,314.8 403.2,315.3C401.4,315.8 399.2,316.1 397.1,316.1C395.1,316.1 393.1,315.3 391.1,315.3C389,315.3 386,315.9 385,316.1L385,310ZM385,338.8C385.3,339 386.3,336 386.5,339.6C386.8,343.1 386.8,356.5 386.5,360.1C386.3,363.6 385.3,360.7 385,360.8L385,338.8ZM385,371.5C386,371.3 389.3,370.7 391.1,370.7C392.8,370.7 394.1,371 395.6,371.5C397.1,372 398.7,372.8 400.2,373.7C401.7,374.6 403.5,375.8 404.7,376.8C406,377.8 407.5,378.9 407.8,379.8C408,380.7 407.3,381.8 406.2,382.1C405.2,382.3 403.1,381.6 401.7,381.3C400.3,381.1 398.9,380.3 397.9,380.6C396.9,380.8 396.5,382 395.6,382.8C394.7,383.7 393.6,385.1 392.6,385.9C391.6,386.6 390.8,387 389.6,387.4C388.3,387.8 385.8,388 385,388.1L385,371.5ZM385,394.2C385.6,394.3 388.1,394.8 388.8,395C389.5,395.2 389.1,395.4 389.1,395.5L385,395.5L385,394.2ZM75,349.5 180.5,349.5 180.5,445 75,445ZM179.4,475 179.4,375 285.6,375 285.6,475ZM285,395 385.6,395 385.6,495 285,495ZM385,395L389.6,395C389.4,395.8 389.3,398.3 388.8,399.6C388.3,400.8 387.1,401.8 386.5,402.6C385.9,403.3 385.3,403.9 385,404.1L385,395ZM385,414.7C385.8,414.9 388.2,415 389.6,415.5C390.9,416 393.1,417 393.3,417.8C393.6,418.5 392.5,419.5 391.1,420C389.7,420.5 386,420.7 385,420.8L385,414.7ZM385,440.5C386,440.3 388.8,439.4 391.1,439C393.3,438.6 396.4,438.6 398.7,438.2C400.9,437.9 402.7,436.9 404.7,436.7C406.8,436.6 409,437 410.8,437.5C412.6,438 413.8,438.8 415.3,439.8C416.9,440.8 418.8,441.9 419.9,443.6C421,445.2 421.9,447.6 422.2,449.6C422.4,451.7 422.3,453.9 421.4,455.7C420.5,457.5 418.4,458.7 416.9,460.3C415.3,461.8 413.8,463.3 412.3,464.8C410.8,466.3 409.3,467.8 407.8,469.4C406.2,470.9 404.3,472.1 403.2,473.9C402.1,475.7 401.2,478 400.9,480C400.7,482 401.1,484.5 401.7,486C402.3,487.6 403.2,489.1 404.7,489.1C406.2,489.1 408.5,486.8 410.8,486C413.1,485.3 415.9,484.5 418.4,484.5C420.9,484.5 423.7,485.3 426,486C428.2,486.8 430.3,488.1 432,489.1C433.8,490.1 436.1,491.1 436.6,492.1C437.1,493.1 435.3,494.5 435.1,495L385,495L385,440.5ZM448.7,492.1C450,490.9 451.5,489.3 453.3,487.6C455.1,485.8 457.8,483.1 459.4,481.5C460.9,479.9 461.1,478.7 462.4,477.7C463.7,476.7 465.2,475.7 466.9,475.4C468.7,475.2 471,476.3 473,476.2C475,476.1 477.3,475 479.1,474.7C480.9,474.3 482.4,473.5 483.6,473.9C484.9,474.3 485.9,475.6 486.7,476.9C487.4,478.3 487.4,480.9 488.2,482.3C488.9,483.6 489.7,484.5 491.2,485.3C492.7,486 495,486.4 497.3,486.8C499.6,487.2 503.7,487.4 505,487.6L505,495L445.7,495C446.2,494.5 447.5,493.4 448.7,492.1ZM300,494L420,494L420,515.5C418.9,516.2 414.8,518.3 413.1,519.3C411.3,520.3 410.9,521.3 409.3,521.6C407.6,521.8 404.7,521.5 403.2,520.8C401.7,520.2 400.9,518.9 400.2,517.8C399.4,516.7 399.1,515 398.6,514C398.1,513 397.5,511.5 397.1,511.7C396.7,512 397,514.6 396.4,515.5C395.7,516.4 394.2,516 393.3,517C392.4,518.1 391.7,519.9 391,521.6C390.4,523.2 390.3,525.6 389.5,526.9C388.8,528.2 387.4,529.3 386.5,529.2C385.6,529.1 385,527.4 384.2,526.1C383.5,524.9 382.8,522.6 381.9,521.6C381.1,520.6 379.9,519.8 378.9,520.1C377.9,520.3 376.9,523.1 375.9,523.1C374.9,523.1 373.8,521.6 372.8,520.1C371.8,518.6 370.7,515.8 369.8,514C368.9,512.2 368.3,511.2 367.5,509.5C366.8,507.7 376.5,504.4 365.3,503.4C354,502.4 310.9,503.4 300,503.4L300,494ZM504.5,485.3C505.5,483.3 508.3,485.9 510.6,486.1C512.9,486.4 515.9,486.4 518.2,486.9C520.5,487.4 522.5,487.2 524.3,489.1C526,491 532.1,496.7 528.8,498.2C525.5,499.8 508.6,500.4 504.5,498.2C500.5,496.1 503.5,487.4 504.5,485.3ZM419,518.7 419,494 445.3,494 445.3,518.7ZM655.8,388.1C655.8,385.8 657.5,381 659.1,378.1C660.7,375.1 663.1,372.4 665.4,370.5C667.7,368.6 670.9,367 672.9,366.8C674.9,366.5 677,367.8 677.4,369.3C677.9,370.7 676,373.5 675.4,375.6C674.9,377.6 673.8,380.2 674.2,381.8C674.6,383.5 677.9,384.1 677.9,385.6C677.9,387.1 675.6,389.4 674.2,390.6C672.7,391.9 670.8,393.4 669.1,393.1C667.5,392.9 665.8,389.6 664.1,389.4C662.4,389.2 660.5,392.1 659.1,391.9C657.7,391.7 655.8,390.4 655.8,388.1ZM625.2,437.6C625.2,435.3 626.6,432.2 627.7,430.1C628.7,428 630,426.1 631.5,425.1C632.9,424 634.8,423.6 636.5,423.8C638.2,424 640.9,424.9 641.5,426.3C642.1,427.8 641.1,430.5 640.3,432.6C639.4,434.7 637.7,437 636.5,438.9C635.2,440.8 634.2,443.1 632.7,443.9C631.2,444.8 628.9,445 627.7,443.9C626.4,442.9 625.2,439.9 625.2,437.6ZM255.9,514.1C256.1,513.7 256.9,513.2 257.4,513.2C257.9,513.3 258.7,513.9 258.9,514.5C259.2,515 259.4,516.1 259.2,516.6C258.9,517.1 257.9,517.5 257.4,517.4C256.9,517.2 256.4,516.3 256.2,515.7C255.9,515.2 255.7,514.5 255.9,514.1ZM270,521C270.3,520.6 271.2,519.6 272.1,519.4C273.1,519.2 274.9,519.5 275.5,519.9C276.2,520.3 276.5,521.2 276.2,521.6C275.8,522 274.3,522.2 273.4,522.3C272.5,522.3 271.2,522.2 270.6,522C270.1,521.8 269.7,521.4 270,521ZM274,524.9C274.2,524.3 275.3,523.6 275.9,523.6C276.5,523.7 277.6,524.7 277.8,525.4C278,526.1 277.5,527.3 277,527.7C276.5,528 275.3,527.7 274.8,527.3C274.3,526.8 273.8,525.5 274,524.9ZM278.8,524.5C279.1,524.1 280.7,523.4 281.6,523.4C282.4,523.4 283.3,524.1 284.1,524.3C284.9,524.4 285.8,523.7 286.3,524.1C286.9,524.6 287.2,526.1 287.2,527C287.3,528 287,529.3 286.6,529.8C286.2,530.3 285.2,530.5 284.7,530.2C284.2,529.9 284,528.4 283.4,527.9C282.9,527.4 282.2,527.3 281.6,527C280.9,526.7 280.1,526.6 279.7,526.2C279.2,525.7 278.5,525 278.8,524.5ZM279.8,530.4C279.9,530.1 280.9,529.6 281.3,529.7C281.7,529.7 282.2,530.4 282.2,530.7C282.1,531 281.3,531.5 280.9,531.4C280.5,531.4 279.7,530.7 279.8,530.4ZM291.4,536.2C291.6,535.4 292.7,535.2 293.1,535.5C293.6,535.7 294.1,536.9 294.1,537.7C294.2,538.5 293.9,539.8 293.5,540.2C293.1,540.7 292.2,541.1 291.9,540.5C291.5,539.8 291.1,537 291.4,536.2ZM294.4,555.3C294.4,554.9 295.3,554.5 295.6,554.5C296,554.6 296.7,555.1 296.6,555.6C296.6,556 295.8,557.2 295.4,557.2C295,557.1 294.3,555.7 294.4,555.3Z"/>
<path fill="#fdcc8a" d="M165,265C165.2,264.1 166.2,262.2 167.3,261.2C168.3,260.2 170.1,259 171,258.9C172,258.8 173,259.5 172.9,260.4C172.7,261.3 171.1,263.3 170.3,264.2C169.5,265.2 168.4,265.9 168,266.2L166,266.2C165.8,266 164.8,265.8 165,265ZM409.3,283.4C410.2,282.8 413.3,281.9 415.3,281.9C417.4,281.9 420.5,282.8 421.4,283.4C422.3,284.1 421.8,285.4 420.7,285.7C419.5,286 416.4,284.9 414.6,284.9C412.8,284.9 410.9,286 410,285.7C409.2,285.4 408.4,284.1 409.3,283.4ZM389.6,296.3C389.7,295.4 391.4,293.3 392.6,291.8C393.7,290.2 395.4,287.8 396.4,286.9C397.3,286 398.5,285.6 398.4,286.5C398.2,287.3 396.7,290 395.6,291.8C394.5,293.5 392.8,296.3 391.8,297.1C390.8,297.8 389.4,297.2 389.6,296.3ZM356.3,388.9C357,387.1 359.4,385.6 360.9,384.4C362.4,383.1 363.9,382.3 365.4,381.3C366.9,380.3 368.3,379 370,378.3C371.6,377.5 374.3,376.3 375.3,376.8C376.3,377.3 376,379.3 376,381.3C376.1,383.3 376,386.6 375.7,388.9C375.5,391.2 374.8,393.7 374.5,395C374.2,396.2 373.9,396.2 373.8,396.4L358.3,396.4C358.1,396.2 357.4,396.2 357.1,395C356.8,393.7 355.7,390.7 356.3,388.9ZM376.8,370.7C377.7,368 380.7,369.7 382.1,369.9C383.5,370.2 384.9,371.3 385.2,372.2C385.4,373.1 384.1,374 383.6,375.3C383.1,376.5 382.1,378 382.1,379.8C382.1,381.6 382.9,384.6 383.6,385.9C384.3,387.1 385.9,387 386.4,387.3L386.4,396.4L377.3,396.4C377.2,394.6 376.9,390.2 376.8,385.9C376.7,381.6 375.9,373.4 376.8,370.7Z"/>
<path fill="#fef0d9" d="M357.1,392.7C357.3,391.6 359.2,390.3 360.9,389.7C362.5,389 365,388.7 366.9,388.9C368.8,389.2 371.3,390.2 372.3,391.2C373.2,392.2 372.9,394.1 372.7,395C372.5,395.8 371.3,396.2 371.1,396.4L359.3,396.4C358.9,395.8 356.8,393.8 357.1,392.7Z"/>
<path fill="#e4e4e4" d="M362.7,395.7C363.1,395.1 364.8,393.7 366.2,393.2C367.5,392.7 369.8,392.4 370.7,392.7C371.7,393 372,394.3 371.8,395C371.6,395.7 369.7,396.7 369.3,397L363.8,397C363.6,396.8 362.3,396.4 362.7,395.7Z"/>
<path fill="#fdcc8a" d="M205.3,384.1C205.5,382.3 206.4,380.9 207.6,379.6C208.9,378.2 210.8,376.5 212.9,375.8C215.1,375 219.3,375.1 220.5,375C221.3,375.8 223.8,378 225.1,379.6C226.3,381.1 226.8,382.6 228.1,384.1C229.4,385.6 230.9,387.3 232.7,388.7C234.4,390 237,391.9 238.7,392.5C240.5,393 241.9,392.5 243.3,391.7C244.7,390.9 245.8,388.4 247.1,387.9C248.3,387.4 249.8,387.9 250.9,388.7C252,389.4 253.5,390.9 253.6,392.5C253.7,394 252.6,396.4 251.6,397.8C250.7,399.2 248.8,399.5 247.8,400.8C246.8,402.1 246.1,403.6 245.6,405.3C245.1,407.1 245.4,409.6 244.8,411.4C244.2,413.2 242.9,414.6 241.8,416C240.6,417.4 239,418.4 238,419.8C237,421.2 236.8,423.3 235.7,424.3C234.6,425.3 232.7,425.3 231.1,425.8C229.6,426.3 228,426.5 226.6,427.4C225.2,428.2 223.9,430.3 222.8,430.8C221.7,431.3 220.5,431.1 219.8,430.4C219,429.7 218.2,428.2 218.2,426.6C218.2,424.9 219.9,422.3 219.8,420.5C219.6,418.8 218.1,417.6 217.5,416C216.9,414.3 216.6,412.4 216,410.7C215.3,408.9 214.5,407 213.7,405.3C212.9,403.7 212.4,402.3 211.4,400.8C210.4,399.3 208.4,398 207.6,396.2C206.9,394.5 207.2,392.2 206.9,390.2C206.5,388.2 205.2,385.9 205.3,384.1ZM255.4,450.9C255.2,450.7 256.7,447.6 258.5,446.3C260.2,445.1 263.3,444 266,443.3C268.8,442.5 272.1,442.3 275.2,441.8C278.2,441.3 282.4,440.5 284.3,440.3C286.1,440 286.1,440.1 286.5,440.1L286.5,450C286.1,449.7 285.1,448.6 284.3,447.8C283.4,447.1 284.3,445.8 281.2,445.6C278.2,445.3 269.6,446.1 266,446.3C262.5,446.6 261.7,446.3 260,447.1C258.2,447.8 255.7,451 255.4,450.9ZM340.4,422.3C340.6,421.4 342.3,419.9 343.4,419.3C344.6,418.6 346.1,418.1 347.2,418.5C348.4,418.9 350,420.4 350.3,421.6C350.5,422.7 349.6,424.6 348.7,425.3C347.8,426.1 346.1,426.2 344.9,426.1C343.8,426 342.7,425.2 341.9,424.6C341.1,424 340.1,423.2 340.4,422.3ZM358.1,457.2C358.4,456.3 359.9,454.8 360.9,454.5C361.9,454.2 363.5,454.8 364.2,455.4C364.9,456 365.4,457.2 365.1,458C364.8,458.8 363.4,459.9 362.4,460.3C361.4,460.6 360.1,460.5 359.4,459.9C358.6,459.4 357.9,458.1 358.1,457.2ZM344.9,475.4C344.9,473.7 345.6,471 346.5,469.4C347.3,467.7 348.6,466.2 350.3,465.6C351.9,464.9 354.3,465.3 356.3,465.6C358.3,465.8 360.6,466.2 362.4,467.1C364.2,468 366.1,469.2 366.9,470.9C367.8,472.5 368.2,475.2 367.7,476.9C367.2,478.7 365.6,480.4 363.9,481.5C362.3,482.6 359.9,483.5 357.8,483.8C355.8,484 353.7,483.6 351.8,483C349.9,482.4 347.6,481.2 346.5,480C345.3,478.7 344.9,477.2 344.9,475.4Z"/>
<path fill="#fef0d9" d="M348.7,470.9C349,469.7 350.5,468 351.8,467.5C353,467 354.8,467.3 356.3,467.8C357.8,468.4 359.6,469.6 360.9,470.9C362.1,472.1 363.9,474.2 363.9,475.4C363.9,476.6 362.4,477.9 360.9,478.2C359.4,478.4 356.6,477.5 354.8,476.9C353,476.4 351.3,475.7 350.3,474.7C349.2,473.7 348.5,472.1 348.7,470.9Z"/>
<path fill="#e4e4e4" d="M354,473.1C354.4,472.5 356.6,472.1 357.8,472.4C359.1,472.6 361.3,473.9 361.6,474.7C362,475.4 361.1,476.7 360.1,476.9C359.1,477.2 356.6,476.8 355.6,476.2C354.5,475.6 353.7,473.8 354,473.1Z"/>
<path fill="#fdcc8a" d="M359.4,395L374.5,395C374.3,395.5 374.3,397.3 373,398C371.7,398.7 368.8,399.2 366.9,399.2C365,399.2 362.9,398.7 361.6,398C360.4,397.3 359.7,395.5 359.4,395ZM373.8,434.5C374,432.9 376.2,431.4 377.6,429.9C379,428.4 380.6,426.7 382.1,425.3C383.6,424 385.8,422.6 386.5,422.1L386.5,440.8C385.8,440.9 383.9,441.6 382.1,441.3C380.4,441 377.4,440.1 376,439C374.7,437.9 373.5,436 373.8,434.5Z"/>
<path fill="#e34a33" d="M105,224C105,223 105.7,221.5 106.6,221C107.4,220.4 109.1,220.2 110.3,220.7C111.6,221.2 113.3,222.7 114.1,224C115,225.3 115.3,227.3 115.7,228.6C116,229.8 115.7,231.2 116.4,231.6C117.2,232 118.7,231.7 120.2,230.8C121.7,229.9 123.8,228.1 125.5,226.3C127.3,224.5 129.5,222.4 130.8,220.2C132.1,218.1 132.8,215.9 133.4,213.4C134,210.9 134.2,207.2 134.6,205.2C135.1,203.2 135.5,202.5 136.1,201.4C136.8,200.3 137.4,199.1 138.3,198.4C139.2,197.7 140.3,197.1 141.5,197.1C142.6,197.1 144,197.7 145.3,198.4C146.5,199.1 147.8,200.3 149,201.4C150.3,202.5 151.6,204 152.8,205.2C154.1,206.4 155.4,207.6 156.6,208.5C157.9,209.5 159,210.3 160.3,211C161.5,211.6 162.8,212 164.1,212.5C165.3,212.9 166.4,213.5 167.9,213.5C169.3,213.6 171,213 172.6,212.8C174.1,212.5 175.7,212 177,212.2C178.2,212.3 179.6,213.3 180.2,213.5C180.7,213.8 180.3,213.8 180.3,213.8L180.3,224.7C180.1,224.8 179.9,225.3 179.2,225.7C178.6,226.1 177.1,226.6 176.4,227.2C175.6,227.8 175.1,228.6 174.8,229.5C174.6,230.4 174.6,231.5 174.8,232.5C175.1,233.5 175.7,234.7 176.4,235.5C177,236.4 178.3,237 178.6,237.8C179,238.7 178.9,240 178.6,240.7C178.4,241.4 178.1,241.7 177.1,242.2C176.1,242.7 174.3,243.4 172.6,243.7C170.8,244.1 168.3,244 166.5,244.5C164.7,245 163.1,245.8 161.9,246.8C160.8,247.8 159.7,249.3 159.7,250.6C159.7,251.8 161.4,252.7 161.9,254.4C162.4,256 162.6,258.6 162.7,260.4C162.8,262.3 162.4,264.5 162.4,265.3L140.3,265.3C140.3,264.2 139.8,261.5 139.9,258.9C140.1,256.3 141.5,252.3 141.5,249.8C141.5,247.3 140.8,245 139.9,243.7C139.1,242.5 137.5,242.1 136.1,242.2C134.8,242.3 133.1,243.2 131.6,244.5C130.1,245.8 128.6,247.4 127,249.8C125.5,252.2 123.8,256.3 122.5,258.9C121.2,261.5 119.8,264.2 119.3,265.3L96.8,265.3C96.9,264.2 96.8,261.7 97,258.9C97.2,256.1 97.5,251.3 98.2,248.3C98.9,245.3 100.1,242.7 101.2,240.7C102.4,238.7 103.9,237.7 105,236.1C106.2,234.6 107.8,233.1 108.1,231.6C108.3,230.1 107.1,228.3 106.6,227C106,225.8 105,225 105,224ZM243.1,155.8C250.1,154.9 278.3,163.4 285.3,165L285.3,181.7C284.8,181.6 283.6,181.9 282.3,181.1C281,180.4 279.3,178.6 277.7,177.4C276.2,176.1 275,174.4 273.2,173.6C271.4,172.7 269.1,171.8 267.1,172C265.1,172.3 263.1,173.6 261,175.1C259,176.6 256.1,179.4 255,181.1C253.8,182.9 254.6,184.4 254.2,185.7C253.8,187 253.3,187.7 252.7,188.7C252.1,189.7 251.3,190.9 250.4,191.8C249.5,192.7 248.3,194.3 247.4,194C246.5,193.8 245.6,192.1 245.1,190.3C244.6,188.4 244.6,186 244.4,182.7C244.1,179.4 243.8,175 243.6,170.5C243.4,166 236.2,156.7 243.1,155.8ZM189.4,196.2C190.3,196.2 191.4,197.2 192,198.1C192.6,199.1 192.8,200.5 192.8,201.6C192.8,202.8 192.2,204.5 192,205.1C191.8,205.7 191.8,205.3 191.7,205.3L187.1,205.3C187.1,205.3 187,205.7 186.8,205.1C186.7,204.5 186.1,202.8 186.1,201.6C186.1,200.5 186.3,199.1 186.8,198.1C187.4,197.2 188.6,196.2 189.4,196.2ZM284.7,181.3L284.7,161.4C286,161.6 291.2,161.3 292.8,162.8C294.4,164.3 293.6,167.8 294.3,170.3C294.9,172.9 296.6,176.2 296.6,177.9C296.6,179.7 295.7,180.2 294.3,181C292.9,181.7 289.8,182.4 288.2,182.5C286.6,182.5 285.2,181.5 284.7,181.3ZM180,214.1C180.4,214.5 181.5,215.1 182.3,216.4C183,217.6 184.4,220 184.6,221.7C184.7,223.3 183.8,225.4 183,226.2C182.3,227.1 180.5,226.9 180,227L180,214.1ZM189.9,266.5C190.2,265.3 193,264.1 195.2,263.4C197.3,262.7 200.6,262.2 202.8,262.4C204.9,262.5 206.8,263.1 208.1,264.2C209.3,265.2 209.8,267.2 210.3,268.7C210.9,270.3 210.3,272.4 211.1,273.3C211.9,274.2 213.5,274.2 214.9,274C216.3,273.9 217.9,272.5 219.5,272.5C221,272.5 222.7,273.2 224,274C225.3,274.9 226.3,276.2 227,277.8C227.8,279.5 227.8,282.3 228.6,283.9C229.3,285.6 230.3,286.8 231.6,287.7C232.9,288.6 234.8,288.8 236.1,289.2C237.5,289.7 239,290.2 239.6,290.4L207.6,290.4C207.7,289.8 208.4,288.5 208.1,286.9C207.8,285.4 206.7,282.6 205.8,280.9C204.9,279.1 204,277.6 202.8,276.3C201.5,275.1 199.9,274.3 198.2,273.3C196.6,272.3 194.3,271.4 192.9,270.3C191.5,269.1 189.5,267.6 189.9,266.5ZM185.3,277.8C185.8,276.9 187.8,275.8 189.1,276C190.4,276.3 192,278.3 192.9,279.4C193.8,280.4 194.7,281.5 194.4,282.4C194.2,283.3 192.1,283.7 191.4,284.7C190.6,285.7 190.5,288.2 189.9,288.5C189.2,288.7 188.2,287.3 187.6,286.2C187,285 186.4,283 186.1,281.6C185.7,280.2 184.8,278.8 185.3,277.8ZM232.4,265.7C232.6,264 233.2,262.3 234.6,261.4C236,260.6 238.7,260.2 240.7,260.4C242.7,260.6 245,262 246.8,262.7C248.5,263.3 249.8,263.7 251.3,264.2C252.8,264.7 254.4,264.7 255.9,265.7C257.4,266.7 259.3,268.6 260.4,270.3C261.6,271.9 262.7,273.9 262.7,275.6C262.7,277.2 261.6,279 260.4,280.1C259.3,281.3 257.3,282.4 255.9,282.4C254.5,282.4 253,281.4 252.1,280.1C251.2,278.8 251.1,276.6 250.6,274.8C250.1,273 249.7,270.6 249,269.5C248.4,268.4 247.7,267.8 246.8,268C245.9,268.1 244.9,269.4 243.7,270.3C242.6,271.1 241.2,272.5 239.9,273.3C238.7,274 237.3,275.1 236.1,274.8C235,274.5 233.7,273.3 233.1,271.8C232.5,270.3 232.1,267.4 232.4,265.7ZM252.5,234.6C253,233.7 254.8,233.2 255.9,233.8C256.9,234.5 258,236.7 258.9,238.4C259.8,240 261.2,242.3 261.2,243.7C261.2,245.1 259.8,245.8 258.9,246.7C258,247.6 256.8,248.1 255.9,249C255,249.9 254.3,251.9 253.6,252C252.9,252.2 251.8,251 251.6,249.8C251.4,248.5 252.3,246.2 252.5,244.5C252.7,242.7 252.8,240.8 252.8,239.1C252.8,237.5 252,235.5 252.5,234.6ZM262.7,252.3C263.1,252 264.3,253.4 265,254.3C265.6,255.3 266.5,257.2 266.5,258.1C266.4,259 265.3,260.2 264.7,259.9C264,259.7 263,257.9 262.7,256.6C262.4,255.3 262.3,252.7 262.7,252.3ZM220.2,238.4C220.7,238.1 222.9,237.2 224,237.6C225.1,238 226.4,239.5 226.7,240.7C227.1,241.8 227,243.5 226.3,244.5C225.6,245.4 223.9,246.1 222.5,246.3C221.1,246.4 218.8,245.8 217.9,245.2C217.1,244.7 216.7,243.3 217.2,242.9C217.7,242.6 220,243.2 221,242.9C222,242.7 223.2,242 223.2,241.4C223.3,240.9 221.8,240.1 221.3,239.6C220.8,239.1 219.8,238.7 220.2,238.4ZM359.4,241.7C359.9,240.7 361.3,239.7 362.4,239.4C363.5,239.1 365.2,239.1 366.2,239.9C367.1,240.6 367.8,242.5 368.2,244C368.5,245.4 368.8,247.1 368.5,248.5C368.1,249.9 367.1,251.6 366.2,252.3C365.3,253.1 364.1,253.5 363.1,253.1C362.2,252.7 361.3,251.3 360.6,250C359.9,248.8 359.3,246.9 359.1,245.5C358.8,244.1 358.8,242.7 359.4,241.7ZM359.4,310C359.9,309.4 361,307.6 362.4,306.9C363.8,306.3 366.1,306 367.7,306.2C369.3,306.4 371.4,307.5 372.3,308.2C373.1,308.9 372.8,310 373,310.4L359.4,310.4C359.4,310.3 358.9,310.6 359.4,310ZM97.8,265L117.5,265C116.7,266 113.8,268.8 112.9,271.1C112.1,273.3 111.9,275.9 112.2,278.7C112.4,281.4 113.4,285 114.5,287.8C115.5,290.5 117,292.8 118.2,295.3C119.5,297.9 120.6,300.4 122,302.9C123.4,305.5 124.9,308 126.6,310.5C128.2,313.1 130.4,315.6 131.9,318.1C133.4,320.6 134.6,323.2 135.7,325.7C136.8,328.2 138,330.8 138.7,333.3C139.5,335.8 139.7,338.5 140.3,340.9C140.8,343.3 141.4,346.1 141.8,347.7C142.2,349.3 142.4,350 142.6,350.4L105.8,350.4C105.7,349.4 105.5,346.8 105.3,343.9C105.2,341 104.6,336.3 104.6,333.3C104.6,330.3 105.1,328.5 105.3,325.7C105.6,322.9 106.2,319.9 106.1,316.6C106,313.3 105.3,309.5 104.6,306C103.8,302.4 102.6,298.9 101.6,295.3C100.5,291.8 99.2,288.3 98.5,284.7C97.8,281.2 97.6,277.4 97.5,274.1C97.3,270.8 97.7,266.5 97.8,265ZM180.4,300.8L180.4,350.4L146.3,350.4C146.2,349.4 145.8,346.3 145.6,343.9C145.3,341.6 144.7,338.6 144.8,336.3C144.9,334 145.6,332 146.3,330.3C147.1,328.5 148.3,327.5 149.4,325.7C150.4,323.9 151.3,321.7 152.4,319.6C153.5,317.6 154.7,315.3 156.2,313.6C157.7,311.8 159.6,310.4 161.5,309C163.4,307.6 165.5,306.4 167.6,305.2C169.6,304.1 171.6,302.9 173.6,302.2C175.7,301.4 178.6,300.9 179.7,300.7C180.8,300.4 180.3,300.8 180.4,300.8ZM139.5,265L159.2,265C159.3,266 160.1,268.8 160,271.1C159.9,273.3 159.2,276.6 158.5,278.7C157.7,280.7 156.7,282.3 155.4,283.2C154.2,284.1 152.4,284.3 150.9,284C149.4,283.6 147.8,282.1 146.3,280.9C144.8,279.8 142.9,278.7 141.8,277.1C140.6,275.6 139.9,273.9 139.5,271.8C139.1,269.8 139.5,266.1 139.5,265ZM285.5,290 285.5,375.5 179.5,375.5 179.5,290ZM359.4,310L374.5,310C374.6,311.1 374.6,314.9 374.8,316.8C375.1,318.8 375.5,321.2 376,321.8C376.6,322.5 377.8,321.8 378.3,320.9C378.9,320 378.9,316.9 379.4,316.4C379.9,315.9 381.1,316.8 381.5,317.9C382,319 382.3,321.2 382.1,322.9C382,324.6 381.4,326.6 380.6,327.9C379.8,329.2 378.6,330.3 377.3,330.6C375.9,330.9 374.2,330.5 372.7,329.7C371.2,328.9 369.9,327.3 368.5,325.9C367,324.5 365.2,323 363.9,321.4C362.6,319.7 361.6,318 360.9,316.1C360.1,314.2 359.6,311 359.4,310ZM285,355.5C285.8,355.6 288.2,356.2 289.6,356.3C290.9,356.4 292.3,357.1 293.2,356.1C294.1,355.1 294.5,352.2 295.2,350.2C295.8,348.2 296.5,345.8 297.1,344.1C297.8,342.4 298.6,340.4 299.3,340C300,339.7 300.7,340.8 301.4,341.9C302,342.9 302.5,344.6 303.2,346.4C303.9,348.2 304.5,350.5 305.5,352.5C306.5,354.5 307.6,357.2 309.3,358.6C310.9,359.9 313.1,360.3 315.3,360.8C317.6,361.3 320.7,361.6 322.9,361.6C325.2,361.6 327.2,361.5 329,360.8C330.8,360.2 332.3,358.9 333.6,357.8C334.8,356.7 335.3,355 336.6,354C337.9,353 339.6,352 341.1,351.7C342.7,351.5 344.4,351.9 345.7,352.5C347,353.1 347.8,354.5 348.7,355.5C349.6,356.5 350.5,358.8 351,358.6C351.5,358.3 351.5,355.8 351.8,354C352,352.2 351.8,349.3 352.5,347.9C353.3,346.5 354.7,346.3 356.3,345.7C358,345 360.1,344.5 362.4,344.1C364.7,343.8 367.4,343.4 370,343.7C372.5,343.9 375.5,344.7 377.6,345.7C379.6,346.6 381.1,347.8 382.1,349.5C383.1,351.1 383.5,353.5 383.6,355.5C383.8,357.5 383.4,359.8 382.9,361.6C382.4,363.4 381.7,365 380.6,366.1C379.5,367.3 377.6,367.8 376,368.4C374.5,369.1 373,369.3 371.5,369.9C370,370.6 368.7,371.5 366.9,372.2C365.2,373 362.1,373.5 360.9,374.5C359.6,375.5 360.1,376.9 359.4,378.3C358.6,379.7 357.3,381.6 356.3,382.8C355.3,384.1 353.7,384.6 353.3,385.9C352.9,387.1 354.2,388.9 354,390.4C353.9,391.9 352.8,394.1 352.5,395C352.2,395.8 352.2,395.4 352.1,395.5L285,395.5L285,355.5ZM383.6,382.8C383.7,381.9 385.2,380.9 385.5,380.5L385.5,385.7C385.4,385.8 385.5,386.4 385.2,385.9C384.8,385.4 383.6,383.7 383.6,382.8ZM385,378.3C385.5,378 387,377.2 388,376.8C389,376.3 390.3,375.4 391.1,375.6C391.9,375.7 392.8,376.6 392.9,377.5C393,378.5 392.5,380.2 391.8,381.3C391.1,382.5 389.9,383.6 388.8,384.4C387.7,385.1 385.6,385.6 385,385.9L385,378.3ZM75,349.5 180.5,349.5 180.5,445 75,445ZM203.8,375C203.1,376 200.8,378.8 199.3,381.1C197.8,383.3 196.2,386.1 194.7,388.7C193.2,391.2 191.7,393.7 190.2,396.2C188.7,398.8 187.1,401.3 185.6,403.8C184.1,406.4 182.1,409.8 181.1,411.4C180,413.1 179.7,413.3 179.4,413.7L179.4,375L203.8,375ZM260,375L285.6,375L285.6,436.3C284.3,436.7 280.9,437.9 278.2,438.7C275.4,439.5 272.1,440.3 269.1,441C266,441.8 262.8,442.7 260,443.3C257.2,443.9 254,445.1 252.4,444.8C250.7,444.5 250.4,443.3 250.1,441.8C249.9,440.3 250.6,438 250.9,435.7C251.1,433.4 251.3,430.9 251.6,428.1C252,425.3 252.6,422 253.1,419C253.7,416 254.2,412.9 254.7,409.9C255.2,406.9 255.7,403.8 256.2,400.8C256.7,397.8 257.2,394.7 257.7,391.7C258.2,388.7 258.8,385.4 259.2,382.6C259.6,379.8 259.9,376.3 260,375ZM216.7,444.8C217,444 220.1,442.7 222,441.8C223.9,440.9 225.8,440 228.1,439.5C230.4,438.9 233.4,438.7 235.7,438.4C238,438.2 240.4,437.4 241.8,438C243.2,438.5 243.5,439.7 244,441.8C244.5,443.8 246.7,449.1 244.8,450.1C242.9,451.1 236.7,448.5 232.7,447.8C228.6,447.2 223.2,446.8 220.5,446.3C217.9,445.8 216.5,445.6 216.7,444.8ZM239.5,375L246.3,375C246.1,375.4 245.9,376.8 245.1,377.3C244.3,377.7 242.7,378.1 241.8,377.7C240.8,377.4 239.9,375.5 239.5,375ZM285,395L348.7,395C348.2,395.8 347.2,397.8 345.7,399.6C344.2,401.3 341.3,403.6 339.6,405.6C338,407.6 336.6,409.7 335.8,411.7C335.1,413.7 334.9,415.7 335.1,417.8C335.2,419.8 335.6,422.2 336.6,423.8C337.6,425.5 339.1,427.1 341.1,427.6C343.2,428.1 347,427.8 348.7,426.9C350.5,426 351.4,423.7 351.8,422.3C352.1,420.9 350.3,419.4 351,418.5C351.8,417.6 354.2,417.4 356.3,417C358.5,416.6 361.4,416.5 363.9,416.2C366.4,416 369.2,415.7 371.5,415.5C373.8,415.2 376,414.6 377.6,414.7C379.1,414.9 380.3,415.2 380.6,416.2C380.9,417.3 379.8,419.3 379.1,420.8C378.3,422.3 377.1,423.6 376,425.3C375,427.1 373.3,429.4 373,431.4C372.8,433.4 374,435.7 374.5,437.5C375,439.3 376.3,440.8 376,442C375.8,443.3 374.5,444.3 373,445.1C371.5,445.8 369,446.1 366.9,446.6C364.9,447.1 362.6,447.4 360.9,448.1C359.1,448.9 357.5,449.9 356.3,451.1C355.2,452.4 354.5,454.2 354,455.7C353.5,457.2 354.2,459.1 353.3,460.3C352.4,461.4 350.5,462.3 348.7,462.5C347,462.8 344.7,462.1 342.7,461.8C340.6,461.4 338.4,460.3 336.6,460.3C334.8,460.3 332.3,461 332,461.8C331.8,462.5 333.3,463.9 335.1,464.8C336.8,465.7 341,466.1 342.7,467.1C344.3,468.1 344.7,469.2 344.9,470.9C345.2,472.5 344.1,475.2 344.2,476.9C344.3,478.7 344.7,480.2 345.7,481.5C346.7,482.8 348.5,483.8 350.3,484.5C352,485.3 354.5,486 356.3,486C358.1,486 359.4,485.3 360.9,484.5C362.4,483.8 363.9,482.8 365.4,481.5C366.9,480.2 368.5,478.5 370,476.9C371.5,475.4 373,473.7 374.5,472.4C376,471.1 377.3,470.4 379.1,469.4C380.9,468.3 384.1,466.9 385.2,466.3C386.2,465.8 385.5,466.1 385.6,466.1L385.6,495L285,495L285,395ZM391.1,448.1C392.3,447.2 393.9,446.3 395.6,445.8C397.4,445.3 399.4,445.3 401.7,445.1C404,444.8 407,444.3 409.3,444.3C411.6,444.3 414,444.4 415.3,445.1C416.7,445.7 417.5,446.8 417.6,448.1C417.8,449.4 417,451.4 416.1,452.7C415.2,453.9 413.5,454.4 412.3,455.7C411.2,457 410.3,458.7 409.3,460.3C408.3,461.8 407.5,463.3 406.2,464.8C405,466.3 402.8,467.6 401.7,469.4C400.6,471.1 399.7,473.4 399.4,475.4C399.2,477.4 399.5,479.5 400.2,481.5C400.8,483.5 401.9,485.8 403.2,487.6C404.5,489.3 406.8,490.9 407.8,492.1C408.8,493.4 409,494.5 409.3,495L385,495L385,455.7C385.5,454.9 387,452.4 388,451.1C389,449.9 389.8,449 391.1,448.1ZM458.6,487.6C459,486.2 461,484.3 462.4,483C463.8,481.7 465.4,480.4 466.9,480C468.5,479.6 470.2,480 471.5,480.7C472.8,481.5 474.2,483.3 474.5,484.5C474.9,485.8 474.5,487.4 473.8,488.3C473,489.2 471.6,489.5 470,489.8C468.3,490.2 465.6,490.3 463.9,490.6C462.3,490.9 461,491.9 460.1,491.4C459.2,490.9 458.2,489 458.6,487.6ZM359.9,494.3C349.3,493 310,494.3 300,494.3L300,494L403.6,494C404,494.3 405,495 406.2,495.8C407.4,496.6 409.3,498.1 410.8,498.8C412.3,499.6 414.1,499.6 415.3,500.3C416.6,501.1 418.1,502.1 418.4,503.4C418.6,504.6 417.5,506.4 416.8,507.9C416.2,509.5 415.3,511.2 414.6,512.5C413.8,513.8 413.4,515.3 412.3,515.5C411.2,515.8 409.5,514.4 407.7,514C406,513.6 403.4,513.8 401.7,513.2C399.9,512.7 398.9,512 397.1,511C395.3,510 393.3,508.2 391,507.2C388.8,506.2 386,505.3 383.5,504.9C380.9,504.5 378.4,504.7 375.9,504.6C373.3,504.5 370.3,504.6 368.3,504.1C366.3,503.7 365.1,503.5 363.7,501.9C362.3,500.2 370.6,495.5 359.9,494.3ZM504,497.7L504,491.3C504.8,491.1 506.8,489.9 508.3,489.9C509.8,489.9 511.6,491.4 512.9,491.4C514.1,491.5 514.5,490.2 515.9,490.2C517.3,490.2 519.6,490.8 521.2,491.4C522.9,492 524.6,492.9 525.8,493.7C526.9,494.5 528.3,495.3 528.1,496C527.8,496.6 525.6,497.6 524.3,497.5C522.9,497.4 521.2,495.8 519.7,495.2C518.2,494.7 516.4,493.8 515.2,494.2C513.9,494.5 513.6,496.8 512.1,497.5C510.6,498.2 507.4,498.2 506,498.2C504.7,498.3 504.4,497.8 504,497.7ZM427.1,505.1C427.3,503.9 428.3,501.6 429.4,500.5C430.6,499.5 432.6,498.7 434,498.7C435.4,498.7 437.4,499.6 437.8,500.5C438.1,501.5 437.3,503.3 436.2,504.3C435.2,505.3 433,506.1 431.7,506.6C430.4,507.1 429.4,507.6 428.7,507.4C427.9,507.1 427,506.2 427.1,505.1ZM419,505.3L419,494L425.7,494C425.7,494.1 426.4,493.4 425.9,494.5C425.4,495.5 423.7,498.7 422.6,500.5C421.4,502.3 419.6,504.5 419,505.3Z"/>
<path fill="#fc8d59" d="M178.6,299.4L178.6,290L204.6,290C204.7,291 205.1,294 205.3,296.1C205.6,298.1 206.6,300.5 206.1,302.1C205.6,303.8 204,305 202.3,305.9C200.7,306.8 198.3,307.6 196.2,307.5C194.2,307.3 192.2,306.2 190.2,305.2C188.2,304.2 185.9,302.4 184.1,301.4C182.3,300.4 180.5,299.4 179.6,299.1C178.6,298.8 178.8,299.4 178.6,299.4ZM240.3,290L286.4,290L286.4,356.1C285.5,356 283.6,355.6 281.2,355.3C278.8,354.9 274.9,354.5 272.1,353.7C269.3,353 266.2,352 264.5,350.7C262.9,349.4 262.8,347.9 262.3,346.1C261.7,344.4 261.9,342.4 261.5,340.1C261.1,337.8 260.4,335 260,332.5C259.6,330 259.1,327.2 259.2,324.9C259.3,322.6 260.4,320.9 260.7,318.8C261.1,316.8 261.9,314.3 261.5,312.8C261.1,311.2 259.7,310.1 258.5,309.7C257.2,309.3 255.4,310.2 253.9,310.5C252.4,310.7 250.4,311.6 249.4,311.2C248.3,310.9 247.7,309.5 247.8,308.2C248,306.9 249.4,305 250.1,303.7C250.9,302.3 251.3,300.6 252.4,299.9C253.5,299.1 255.9,299.7 256.9,299.1C258,298.5 259,297.1 258.5,296.1C258,295.1 255.9,293.8 253.9,293C251.9,292.3 248.6,292 246.3,291.5C244,291 241.3,290.3 240.3,290ZM263.8,376.4L245.6,376.4C245.7,375.4 245.9,372.2 246.3,370.4C246.7,368.7 246.8,367.3 247.8,365.9C248.8,364.5 250.7,362.8 252.4,362.1C254,361.3 255.9,360.9 257.7,361.3C259.5,361.7 261.7,363.1 263,364.4C264.3,365.6 265,367.1 265.3,368.9C265.5,370.7 264.8,373.7 264.5,375C264.3,376.2 264,376.1 263.8,376.4ZM239.3,376.4L203.9,376.4C204.7,375.1 206.6,370.7 208.4,368.9C210.1,367.2 212.4,366.6 214.5,365.9C216.5,365.1 218.8,365.1 220.5,364.4C222.3,363.6 223.8,362.2 225.1,361.3C226.3,360.4 226.6,359.3 228.1,359C229.6,358.8 232.7,359.2 234.2,359.8C235.7,360.4 236.5,361.6 237.2,362.8C238,364.1 239,366.1 238.7,367.4C238.5,368.7 236,369.2 235.7,370.4C235.4,371.7 236.6,374 237.2,375C237.8,376 239,376.1 239.3,376.4Z"/>
<path fill="#fdcc8a" d="M266,320.3C266.2,318.7 266.8,315.3 267.6,312.8C268.3,310.2 269.1,307.2 270.6,305.2C272.1,303.2 274.4,301.9 276.7,300.6C278.9,299.4 282.6,298.2 284.3,297.6C285.9,297 286,297.1 286.4,297.1L286.4,335.7C286.3,335.7 286.4,336.3 285.8,335.5C285.2,334.7 283.8,332.2 282.7,331C281.7,329.7 281,328.8 279.7,327.9C278.4,327.1 276.7,326.3 275.2,325.7C273.6,325 272,324.6 270.6,324.1C269.2,323.6 267.6,323.3 266.8,322.6C266,322 265.9,322 266,320.3ZM225.8,376.4L209.9,376.4C210.4,376 211.4,374.8 212.9,374.2C214.5,373.6 217,372.6 219,372.7C221,372.8 223.9,374.4 225.1,375C226.2,375.6 225.7,376.1 225.8,376.4ZM256.2,369.7C256.6,368.8 258.4,368.5 259.2,368.9C260.1,369.3 261.1,370.9 261.2,371.9C261.3,373 260.4,374.6 259.7,375C258.9,375.4 257.2,375.1 256.6,374.2C256.1,373.3 255.8,370.6 256.2,369.7Z"/>
<path fill="#fc8d59" d="M338.1,376C338.5,375.6 339.9,375.9 341.1,376.8C342.4,377.7 344.2,379.7 345.7,381.3C347.2,383 349.1,385.1 350.3,386.6C351.4,388.1 352.5,389.7 352.5,390.4C352.5,391.2 351.3,391.7 350.3,391.2C349.2,390.7 347.8,388.8 346.5,387.4C345.1,386 343.2,384.2 341.9,382.8C340.6,381.4 339.5,380.2 338.9,379C338.2,377.9 337.7,376.4 338.1,376ZM120.5,379.9C120.8,378.6 124.6,377.7 126.6,376.9C128.6,376.1 130.6,375.2 132.7,375C134.7,374.9 136.7,375.4 138.7,376.1C140.8,376.8 142.8,378 144.8,379.1C146.8,380.3 148.8,381.4 150.9,382.9C152.9,384.5 155.2,386.2 156.9,388.2C158.7,390.3 160.2,392.7 161.5,395.1C162.8,397.5 163.9,399.4 164.5,402.7C165.2,406 170.1,412.8 165.3,414.8C160.5,416.8 141.1,418.8 135.7,414.8C130.3,410.8 134.4,395.6 132.7,390.5C130.9,385.5 127.1,386.2 125.1,384.5C123.1,382.7 120.3,381.2 120.5,379.9ZM97.8,348.6L105.8,348.6C105.7,349.2 105.3,350.7 105.3,352.6C105.4,354.5 106.1,357.6 106.1,360.2C106.1,362.7 106,366.2 105.3,367.8C104.7,369.3 103.6,370.5 102.3,369.3C101,368 98.5,363.6 97.8,360.2C97,356.7 97.8,350.5 97.8,348.6ZM181.4,405.8L181.4,424.9C179.9,424 172.8,421.4 172.1,419.4C171.4,417.3 175.9,414.8 177.4,412.5C179,410.3 180.8,406.9 181.4,405.8ZM140.2,348.6L145.5,348.6C145.5,348.7 145.8,348.8 145.6,349.6C145.3,350.4 144.7,352.8 144,353.3C143.4,353.9 142.4,353.3 141.8,352.6C141.1,351.8 140.5,349.5 140.3,348.8C140,348.1 140.2,348.6 140.2,348.6Z"/>
<path fill="#fdcc8a" d="M139.5,398.1C140.1,396.7 141.5,397.4 143.3,397.4C145.1,397.4 148.7,397.2 150.1,398.1C151.5,399 151.4,400.3 151.6,402.7C151.9,405.1 153.4,410.9 151.6,412.5C149.9,414.2 143,413.7 141,412.5C139,411.4 139.7,408.1 139.5,405.7C139.2,403.3 138.9,399.5 139.5,398.1Z"/>
<path fill="#fc8d59" d="M285,432.9C286,432.7 289,431.8 291.1,431.4C293.1,431 295.2,430.4 297.1,430.7C299,430.9 300.9,431.7 302.5,432.9C304,434.2 305,436 306.2,438.2C307.5,440.5 309,443.9 310,446.6C311.1,449.2 312.2,452.2 312.6,454.2C313,456.2 313.4,457.5 312.6,458.7C311.8,460 309.6,460.9 307.8,461.8C305.9,462.7 303.7,463.8 301.7,464C299.7,464.3 297.6,463.9 295.6,463.3C293.6,462.7 291.3,461 289.6,460.3C287.8,459.5 285.8,459 285,458.7L285,432.9Z"/>
<path fill="#fdcc8a" d="M285,447.4C285.9,447 287.6,445.4 290.2,445.2C292.7,445.1 297.2,445.4 300.3,446.4C303.5,447.5 307.1,449.8 309,451.4C310.8,453.1 312,455 311.6,456.5C311.2,457.9 308.6,459.8 306.5,460.3C304.4,460.7 300.9,459.7 299,459C297.1,458.4 297,457.1 295.2,456.5C293.3,455.8 289.4,455.6 287.7,455.2C286,454.9 285.5,454.4 285,454.2L285,447.4Z"/>
<path fill="#fc8d59" d="M385,454.2C386,453.9 389,452.7 391.1,452.7C393.1,452.7 395.6,453.4 397.1,454.2C398.7,454.9 400.2,456 400.2,457.2C400.2,458.5 398.7,460.5 397.1,461.8C395.6,463 393.1,464 391.1,464.8C389,465.6 386,466.1 385,466.3L385,454.2Z"/>
<path fill="#b30000" d="M147.3,203.1C149.2,203.2 151.8,203.6 153.3,204.6C154.9,205.6 156.2,207.5 156.9,209.1C157.5,210.7 157.6,212.4 157.4,214.1C157.1,215.9 156.5,218.2 155.4,219.7C154.2,221.1 152.2,222.6 150.3,223C148.5,223.4 146.1,223 144.3,222.2C142.5,221.4 140.9,219.7 139.8,218.2C138.6,216.7 137.7,214.9 137.5,213.1C137.2,211.4 137.5,209.1 138.3,207.6C139,206.1 140.3,204.8 141.8,204.1C143.3,203.3 145.4,203 147.3,203.1ZM247.4,161.4C248.4,160.7 251.2,161 252.7,160.7C254.2,160.4 255.2,159.5 256.5,159.6C257.8,159.7 259.2,160.5 260.3,161.4C261.4,162.4 262.2,164.7 263.3,165.2C264.5,165.8 265.9,164.9 267.1,164.8C268.4,164.6 270.2,164 270.9,164.5C271.7,164.9 272,166.6 271.7,167.5C271.3,168.4 269.9,169.1 268.6,169.8C267.4,170.4 265.6,170.5 264.1,171.3C262.6,172 260.9,173.3 259.5,174.3C258.1,175.3 257,176.3 255.7,177.4C254.5,178.4 253.1,179.5 251.9,180.4C250.8,181.3 249.7,183 248.9,182.7C248.1,182.3 247.7,180.1 247.4,178.1C247.1,176.1 247.2,172.7 247.1,170.5C247,168.4 246.6,166.7 246.6,165.2C246.7,163.7 246.4,162.2 247.4,161.4ZM119.8,309C120.4,307.1 121.5,307.2 122.8,308.2C124.1,309.3 126,312.9 127.4,315.1C128.7,317.2 129.9,319.1 131.1,321.1C132.4,323.2 133.9,325.2 134.9,327.2C136,329.2 136.6,331 137.2,333.3C137.8,335.6 138.3,338.3 138.7,340.9C139.2,343.4 139.7,346.9 139.9,348.5C140.2,350.1 140.1,350.1 140.1,350.4L131.2,350.4C131.2,350.4 131.4,351.1 131.1,350C130.9,348.9 130.4,345.7 129.6,343.9C128.9,342.1 127.6,340.6 126.6,339.4C125.6,338.1 124.6,338.1 123.6,336.3C122.5,334.5 121.3,331.5 120.5,328.7C119.8,326 119.1,322.9 119,319.6C118.9,316.3 119.1,310.9 119.8,309ZM105.3,333.3C105.6,332.1 107.4,330.9 108.4,331C109.4,331.1 110.7,332.7 111.4,334C112.2,335.4 112.2,337.5 112.9,339.4C113.7,341.3 115,343.6 116,345.4C116.9,347.3 118.1,349.6 118.5,350.4L113.2,350.4C113.1,350.4 113.5,351.1 112.9,350C112.4,348.9 110.9,345.9 109.9,343.9C108.9,341.9 107.6,339.6 106.9,337.8C106.1,336.1 105.1,334.4 105.3,333.3ZM166,318.1C166.8,316.3 167.8,313.7 169.1,312C170.3,310.4 171.9,309.3 173.6,308.2C175.4,307.2 178.6,306.2 179.7,306C180.8,305.7 180.3,306.6 180.5,306.7L180.5,350.5L168.9,350.5C168.8,349.9 168.8,349 168.3,346.9C167.8,344.8 166.7,340.9 166,337.8C165.4,334.8 164.7,331.3 164.5,328.7C164.3,326.2 164.6,324.4 164.8,322.7C165.1,320.9 165.3,319.9 166,318.1ZM187.9,375.5L179.5,375.5L179.5,305.9C179.5,305.9 179,305.3 179.6,305.9C180.1,306.6 181.8,308.1 182.6,309.7C183.3,311.4 183.1,313.8 184.1,315.8C185.1,317.8 187.6,319.6 188.7,321.9C189.7,324.1 190,326.9 190.2,329.5C190.3,332 189.2,334.5 189.4,337C189.7,339.6 190.8,342.1 191.7,344.6C192.6,347.2 193.8,349.9 194.7,352.2C195.6,354.5 196.8,356.3 197,358.3C197.3,360.3 197.1,362.3 196.2,364.4C195.4,366.4 193.1,368.6 191.7,370.4C190.3,372.3 188.5,374.6 187.9,375.5ZM234.2,317.3C235.8,316.5 238.5,317.2 239.5,317.6C240.5,318 240.6,318.5 240.3,319.6C239.9,320.7 238.2,322.5 237.2,324.1C236.2,325.8 234.9,327.6 234.2,329.5C233.4,331.4 233,333.6 232.7,335.5C232.3,337.4 232.5,339.4 231.9,340.8C231.3,342.2 230.1,343.5 228.9,343.9C227.6,344.2 225.4,343.7 224.3,343.1C223.2,342.5 222.6,341.3 222.3,340.1C222.1,338.8 222.2,337.3 222.8,335.5C223.4,333.8 224.7,331.6 225.8,329.5C227,327.3 228.2,324.6 229.6,322.6C231,320.6 232.5,318.1 234.2,317.3ZM355.1,353.2C355.2,352.5 356.6,351.4 357.8,350.7C359.1,350 361.1,349.4 362.4,349.2C363.7,348.9 365.3,349 365.7,349.5C366.1,349.9 365.5,351 364.7,351.7C363.9,352.5 362.1,353.4 360.9,354C359.6,354.6 358,355.2 357.1,355.1C356.1,354.9 355,354 355.1,353.2ZM347,395.5L301.1,395.5C301.2,394.9 301.2,393.8 301.7,391.9C302.2,390.1 303,386.9 304,384.4C305,381.8 306.4,378.8 307.8,376.8C309.2,374.7 310.5,373.4 312.3,372.2C314.1,371.1 316.4,370.4 318.4,369.9C320.4,369.4 322.4,369.4 324.5,369.2C326.5,368.9 328.8,368.9 330.5,368.4C332.3,367.9 333.6,366.9 335.1,366.1C336.6,365.4 337.9,364.4 339.6,363.9C341.4,363.3 344.2,362.7 345.7,362.8C347.2,362.9 347.6,363.9 348.7,364.6C349.9,365.3 351.4,366.3 352.5,366.9C353.7,367.5 355.4,367.5 355.6,368C355.7,368.5 354.4,369.4 353.3,369.9C352.1,370.5 350.5,371 348.7,371.5C347,372 344.4,372.6 342.7,373C340.9,373.4 339,372.8 338.1,373.7C337.2,374.6 337.4,376.8 337.4,378.3C337.4,379.8 337.6,381.4 338.1,382.8C338.6,384.2 339.4,385.5 340.4,386.6C341.4,387.8 343.2,388.7 344.2,389.7C345.2,390.7 346,391.7 346.5,392.7C346.9,393.7 346.9,395 347,395.5ZM113.1,349.4L120.8,349.4C121,350 121.3,351.1 122,352.6C122.8,354.1 124.1,357.4 125.1,358.7C126.1,359.9 127.2,360.4 128.1,360.2C129,359.9 129.9,358.7 130.4,357.1C130.9,355.6 131,352.4 131.1,351.1C131.3,349.8 131.2,349.7 131.2,349.4L138.5,349.4C138.6,349.7 138.4,349.8 138.7,351.1C139,352.4 139.9,355.1 140.3,357.1C140.6,359.2 141.3,361.4 141,363.2C140.8,365 139.9,366.8 138.7,367.8C137.6,368.8 136.2,369.3 134.2,369.3C132.2,369.3 128.9,368.6 126.6,367.8C124.3,366.9 122.2,365.6 120.5,364C118.9,362.3 117.9,360 116.7,357.9C115.6,355.7 114.3,352.5 113.7,351.1C113.1,349.7 113.2,349.7 113.1,349.4ZM168.7,349.4L180.6,349.4L180.6,380.9C180.4,380.8 180.5,381.3 179.7,379.9C178.9,378.5 177.2,375.1 175.9,372.3C174.6,369.5 173.3,366.2 172.1,363.2C171,360.2 169.7,356.4 169.1,354.1C168.5,351.8 168.8,350.2 168.7,349.4ZM257.7,431.1C257.6,429.1 258.5,426.1 259.2,423.6C260,421 261.1,418.2 262.3,416C263.4,413.7 264.4,411.7 266,409.9C267.7,408.1 270.1,406.9 272.1,405.3C274.1,403.8 276.2,402.3 278.2,400.8C280.2,399.3 283,397.1 284.3,396.2C285.5,395.3 285.4,395.6 285.6,395.4L285.6,424C285.4,424.4 285,425.1 284.3,426.6C283.5,428 282.5,431 281.2,432.7C280,434.3 278.4,435.5 276.7,436.5C274.9,437.4 272.6,438.2 270.6,438.4C268.6,438.7 266.3,438.4 264.5,438C262.8,437.5 261.1,436.8 260,435.7C258.8,434.6 257.8,433.2 257.7,431.1ZM179.4,380.4L179.4,375L186.4,375C186,375.8 185,378.3 184.1,379.6C183.2,380.8 181.8,382.4 181.1,382.6C180.3,382.7 179.7,380.8 179.4,380.4ZM304.7,395L345.7,395C345.2,396 343.9,399 342.7,401.1C341.4,403.1 339.4,404.9 338.1,407.1C336.8,409.4 335.8,412.2 335.1,414.7C334.3,417.3 334.3,420 333.6,422.3C332.8,424.6 331.8,426.4 330.5,428.4C329.3,430.4 327.2,432.4 326,434.5C324.7,436.5 323.6,438.2 322.9,440.5C322.3,442.8 321.4,446.6 322.2,448.1C322.9,449.6 325.6,449 327.5,449.6C329.4,450.3 331.8,451.1 333.6,451.9C335.3,452.7 337,453.4 338.1,454.2C339.2,454.9 339.9,455.6 339.9,456.5C339.9,457.3 339.2,458.4 338.1,459C337,459.7 334.8,459.7 333.6,460.3C332.3,460.8 330.5,461.5 330.5,462.5C330.5,463.5 332.5,464.9 333.6,466.3C334.6,467.7 335.8,469.1 336.6,470.9C337.4,472.6 338,474.9 338.1,476.9C338.2,479 338.1,481.2 337.4,483C336.6,484.8 335.5,486.4 333.6,487.6C331.7,488.8 328.6,489.7 326,490.3C323.3,490.9 319.9,491.6 317.6,491.4C315.3,491.2 314,490.5 312.3,489.1C310.7,487.7 308.9,485 307.8,483C306.6,481 306.2,479 305.5,476.9C304.7,474.9 304,472.6 303.2,470.9C302.5,469.1 300.7,467.5 300.9,466.3C301.2,465.2 303.1,465.1 304.7,464C306.4,463 309,461.9 310.8,460.3C312.6,458.6 314.5,456.2 315.3,454.2C316.2,452.2 316.1,450.1 316.1,448.1C316.1,446.1 315.7,444.1 315.3,442C315,440 314.6,438 313.8,436C313.1,433.9 311.8,432.2 310.8,429.9C309.8,427.6 308.5,425.1 307.8,422.3C307,419.5 306.6,416.2 306.2,413.2C305.9,410.2 305.7,407.1 305.5,404.1C305.2,401.1 304.9,396.5 304.7,395ZM343.4,436C343.7,434.3 344.6,432.6 345.7,431.4C346.8,430.3 348.2,429.6 350.3,429.1C352.3,428.7 355.7,428.6 357.8,428.7C360,428.8 362,428.9 363.1,429.6C364.3,430.3 364.8,431.7 364.7,432.9C364.5,434.1 363.4,435.7 362.4,436.7C361.4,437.7 359.5,438.4 358.6,439C357.7,439.6 356.7,440.1 357.1,440.5C357.5,441 359.2,441.4 360.9,441.7C362.5,442 364.9,442.2 366.9,442.3C369,442.5 371.7,442.5 373,442.8C374.3,443.1 375.1,443.2 374.8,443.9C374.6,444.5 373.1,445.9 371.5,446.6C369.9,447.3 367.7,447.7 365.4,448.1C363.1,448.5 360.1,448.9 357.8,448.9C355.6,448.9 353.5,448.6 351.8,448.1C350,447.6 348.5,447 347.2,445.8C346,444.7 344.8,442.9 344.2,441.3C343.5,439.6 343.2,437.6 343.4,436ZM285,410.2C286,410.3 290.6,409.9 291.1,410.9C291.6,411.9 289,414.5 288,416.2C287,418 285.5,420.7 285,421.6L285,410.2ZM365.4,487.6C365.6,485.6 366.6,484.3 367.7,483C368.8,481.7 370.6,480.9 372.3,480C373.9,479.1 375.9,478.7 377.6,477.7C379.2,476.7 380.8,474.8 382.1,473.9C383.5,473 385,472.4 385.6,472.2L385.6,494.1L385.2,495L366.9,495C366.7,493.8 365.3,489.6 365.4,487.6ZM391.1,467.8C391.6,466.3 394.1,464.8 395.6,463.3C397.1,461.8 398.8,460.1 400.2,458.7C401.6,457.3 402.7,455.5 404,454.9C405.2,454.4 406.9,454.8 407.8,455.4C408.6,456 409.3,457.5 409.3,458.7C409.3,459.9 408.8,461.3 407.8,462.5C406.8,463.8 405,464.9 403.2,466.3C401.4,467.7 398.9,469.9 397.1,470.9C395.4,471.9 393.6,472.9 392.6,472.4C391.6,471.9 390.6,469.4 391.1,467.8ZM385,470.9C385.8,471.1 388,471.4 389.6,472.4C391.1,473.4 393.1,475.4 394.1,476.9C395.1,478.5 395.9,480 395.6,481.5C395.4,483 393.9,485 392.6,486C391.3,487.1 389.3,487.4 388,487.6C386.8,487.7 385.5,486.9 385,486.8L385,470.9ZM370.1,494L386.3,494C386.6,494.3 387,495.1 388,495.8C389.1,496.5 391,497.8 392.6,498.1C394.1,498.3 395.9,497.3 397.1,497.3C398.4,497.3 399.1,497.3 400.2,498.1C401.2,498.8 401.9,500.9 403.2,501.9C404.5,502.9 406.6,503.3 407.7,504.1C408.9,505 409.9,506.2 410,507.2C410.1,508.1 409.6,509.5 408.5,509.8C407.4,510 404.8,509.3 403.2,508.7C401.5,508.1 400.2,507.3 398.6,506.4C397.1,505.5 395.6,504.4 394.1,503.4C392.6,502.4 391.3,501.1 389.5,500.3C387.8,499.6 385.5,499.3 383.5,498.8C381.4,498.3 379.4,497.9 377.4,497.3C375.4,496.7 372.5,495.6 371.3,495C370.1,494.5 370.3,494.2 370.1,494Z"/>
<path fill="#e34a33" d="M308.5,470.9C308.5,469.5 311.2,467.3 313.1,466.3C315,465.4 317.4,465.1 319.9,465.1C322.4,465.2 326.2,465.7 328.2,466.6C330.3,467.5 332,469.2 332,470.6C332,471.9 330.3,473.8 328.2,474.7C326.2,475.5 322.4,475.7 319.9,475.7C317.4,475.7 315,475.5 313.1,474.7C311.2,473.9 308.5,472.3 308.5,470.9Z"/>
<path fill="#fc8d59" d="M310,470.9C310,469.9 312.5,468.2 314.1,467.5C315.8,466.8 317.7,466.5 319.9,466.6C322.1,466.7 325.5,467.4 327.2,468.1C328.9,468.8 330.2,470 330.2,470.9C330.2,471.8 328.9,473 327.2,473.6C325.5,474.2 322.1,474.4 319.9,474.4C317.7,474.4 315.8,474.2 314.1,473.6C312.5,473 310,471.9 310,470.9Z"/>
<path fill="#fdcc8a" d="M322.2,472.4C322,471.7 323.1,469.8 323.7,469.7C324.3,469.5 325.5,470.9 325.7,471.6C325.8,472.3 325.3,473.8 324.8,473.9C324.2,474 322.4,473.1 322.2,472.4Z"/>
</g>
<g fill="none" stroke="#3a3a3a" stroke-opacity="0.6" stroke-width="1" stroke-linejoin="round">
<path d="M201.3,146.8 192,187.5 191.8,194.7M191.8,194.7 180.3,192.1 168.9,189.3 165.1,189.6 156.8,189.7 150.9,189.8 142.7,189.3 135.3,185.9 130.3,186.7 125.7,183.7 126.2,180.1 126.2,176.2 121.2,173 116,170.6 114.4,170.1M191.8,194.7 193.5,198.4 194.7,203.7 190.7,211.3 188.6,212.5 184.9,218.4 182.5,221.2 182.8,228.9 176.1,258.6M92.2,236.4 103.9,239.9 115.7,243.3 127.5,246.5 139.3,249.7 151.2,252.7 163.1,255.6 175,258.4 186.9,261 198.9,263.5 210.9,265.9 223,268.1 235,270.2 247.1,272.2M141.2,250.2 128.8,298.2 181.9,378.2M211.5,266 193.2,361 188.6,360.1 183.8,361.7 182.6,369.9 183.2,375.9 181.9,378.2 181.7,381.5 183.4,386.9 186.2,390.8 181.8,395 178.5,401 175.5,405.5 177.3,410.9 173.4,414.8M195.9,347.2 208.9,349.6 222,351.9 235,354 248.1,356.1 261.3,357.9 274.4,359.6 287.5,361.2 300.7,362.7 313.9,364 327.1,365.1 340.3,366.2 353.5,367 366.8,367.8 380,368.4 393.2,368.8 406.5,369.1 419.7,369.3 433,369.3 446.2,369.2M268.8,292.2 247,450.4M244.5,288.6 256.6,290.4 268.8,292.2 280.9,293.8 293.1,295.3 305.3,296.6 317.5,297.9 329.7,299 341.9,299.9 354.2,300.8M244.5,288.6 253.5,231.9 250.1,227.7 242.8,229 233.2,229.8 231,228.6 227.1,221.2 223.6,211.3 219.4,208.9 216.8,207.3 220.1,202.3 219.2,198 222.5,190.3 217.2,185.1 213.9,178.6 210.4,173.7 208.3,164.9 211.7,149.1M254.9,223.5 266.3,225.2 277.8,226.9 289.3,228.4 300.7,229.8 312.2,231.1 323.8,232.3 335.3,233.3M340.8,168.3 329.7,299M336.6,217.9 348.8,218.9 360.9,219.7 373.1,220.4 385.3,221 397.5,221.4 409.7,221.7 421.9,221.8M332.5,266.1 343.5,266.9 354.5,267.7 365.5,268.4 376.5,268.9 387.5,269.4 398.5,269.7 405.6,273.2 412.8,272.3 419.9,276.7 422.9,278.5M354.2,300.8 350,366.8M353.1,317.3 365.1,318 377,318.6 389,319 401,319.4 413,319.6 424.9,319.7 436.9,319.6M337.7,366 337.1,374.2M336.5,374.2 330.8,448.3M330.8,448.3 318.5,447.3 306.2,446.2 294,445 281.8,443.7 282.6,447.4M337.1,374.2 350.1,375.1 363.1,375.9 376.1,376.5 374.8,408.5 385.4,413.2 393.3,415.9 400.1,416.9 412.1,422.9 420.2,421.4 431,421.4 439.1,419.7 448.8,424.7 454.9,426.1 455.4,451.6 458.9,459.8 462.6,464.6 460.7,474.5 460.9,482.7 458.9,489.3M446.3,377.4 449.1,395.6 448.8,424.7M446.3,377.4 445.7,334.4 442.1,329.5 439.5,322.1 436.9,319.6 431.2,310.1 430.2,299.8 427.1,291.6 424.1,283.3 422.9,278.5 421.8,270.1 423,261.9 423.1,232.3 418.6,227.4 421.9,221.9 421.5,215.9 419.6,206.6 418.9,194.7 416.7,189 415.7,180 414.9,171.9M423,261.9 435.4,261.9 447.8,261.7 460.1,261.4 472.5,261 484.9,260.5M431.2,310.1 443.6,310 456.1,309.7 468.5,309.4 481,308.9 485,312M446.3,377.4 460.9,377.2 475.5,376.7 490.1,376 504.6,375.2 502.2,383.7 511,383.1M455.1,435.1 468.2,434.8 481.2,434.3 494.3,433.7M472.3,207.7 470.2,209.2 470.6,218.7 464.9,223.5 466.9,230 465.9,236.6 465.5,240.7 471.4,243.8 476.2,246.9 482.4,253.2 484.9,260.5 486,267 489.4,273.4 492.6,276.4 498.3,282.8 498.6,287.8 494.1,293 488.8,297.4 489.7,303.2 485.1,308.4 485,312 484.3,318.3 490.9,326.3 495.1,332.7 501.6,336.5 502.1,340.1 500.3,347.3 506.4,351.9 511.8,356.5 512.2,362.3 517.3,366.4 514.4,374.6 511,383.1 508.8,389.9 506.7,397.8 504.2,400.1 500.6,408.6 497,415.4 494.7,423.8 494.3,433.7 495.6,441.9 498.6,445.1 492.2,456.9 489.5,466.9M489.5,466.9 502.8,466.3 516.1,465.4 514.8,471.3 518,476.8 520.2,478.7M492.6,276.6 504,275.9 515.3,275.1 526.7,274.1M491.4,209.7 508.1,217.9 518.6,220.4 522.6,227.4 525.3,231.3M531.2,287 534.5,325.7 534.1,331.5 536.1,339.7 531.4,344.2 530.2,351.8M563.8,283.6 568.8,326.3M539.8,285.2 551.8,284 563.8,282.6 580.2,281M618.3,293.6 618.3,299.3 617.8,304.4 616.8,309.6 610.9,316.4 607.2,321.1 605.8,324.7 602.7,330.1 598.1,333.8 592.4,329.4 585.1,331.8 577.2,330.3 572.8,325.8 568.8,326.3 564.8,333.4 558.7,341.3 552.2,346.4 548.5,348.5 542.3,350.7 535.7,348.8 530.2,351.8 526.2,358.8 524,363.9 517.3,366.4M514.4,374.6 531.9,373.2 531.7,370.3 531.8,371.3 545.6,370 559.3,368.6 573.1,367.1 586.8,365.4 600.5,363.6 614.2,361.6M614.4,362.7 626.8,360.8 639.3,358.7 651.7,356.5 664.1,354.1 676.5,351.6 688.9,349.1M614.3,362.1 611.3,370.7 603.8,373.5 597.8,378.5 587.9,383.9 583.3,389.5 583.4,392.8M504.2,400.1 517.8,399.2 531.5,398.2 545.1,397 558.7,395.6 572.3,394.2 585.9,392.5 599.5,390.7M532,398.1 532.5,449.6 535.5,474.4M566.5,394.8 576,429.1 579.6,438.2 579.5,449.8 582,459.4M545.8,463.1 557.9,462 570,460.8 582,459.4M545.8,463.1 548.9,474.4M582,459.4 584.6,464.1 621.9,461.3 624.5,464.6 632,457.6M599.5,390.7 596.9,396.1 603.4,399.4 608.4,406.2 617.6,413.2 625.6,420.3 628,426.6 633.3,434.1 636.9,434.7M599.5,390.7 608.3,386.2 626.1,384.3 626.5,386.1 627.8,384.9 630.5,389.1 645.2,387 662.7,399.6M588.4,365.5 601,353.8 608.2,347.1 598.7,337.9 598.1,333.8M608.2,347.1 618.8,350.3 629.5,344.4 632.7,332.1 636.8,326.3 643.9,320.7 648.5,309.1 656.5,308.9M633.6,306.4 635.1,314.9 641.5,309.5 647.2,306 656.5,308.9 659.9,311.9 666.6,315.7 664.8,323.6 670.1,324.2 678.8,328.4M620.8,308.6 632.4,306.6 644.1,304.5 655.7,302.3 667.3,300 678.8,297.6M620.8,308.6 614.7,271.7M623,265.5 623.8,269.9 623.8,269.9 636.9,267.5 650,265 663,262.4 676.1,259.6 679.7,262.2 686.1,268.2 682.6,275.1 682.5,280.2 685.4,284.6 689.7,287 686.6,292.8 682.7,295.4M686.1,268.2 697,271.8M682.6,295 678.8,297.6 684.3,317.7 692.4,316.1M683,326.6 691.6,323.4M699.8,271.1 701.2,267.4 697.7,253.8 697.8,241.9 694.6,228.2 691.3,222.3 687.9,206M697.8,242.2 709.5,239.3 721.1,236.2 723.4,233.2 725.7,232.6M707.1,239.9 705.5,230.6 705.8,222 705.8,215.2 709.7,209.1 708.7,200.7M697.8,254.1 710.2,251 722.6,247.8 723.9,251.4 726.5,254.1 727.9,255.4M717.8,249.4 720.3,259.2 720,260.8M726,229.1 721.5,224.7 718.6,215.3 712.1,194.9"/>
</g>
<g font-family="'Liberation Sans',sans-serif" font-size="9.7" text-anchor="middle" fill="#40404a" stroke="#fff" stroke-width="2.6" stroke-opacity="0.7" stroke-linejoin="round" paint-order="stroke">
<text x="155.8" y="166.6">WA</text>
<text x="144.5" y="216.6">OR</text>
<text x="125.1" y="335.4">CA</text>
<text x="168" y="300.2">NV</text>
<text x="213.1" y="241.6">ID</text>
<text x="291.5" y="263.7">WY</text>
<text x="278" y="200.4">MT</text>
<text x="234.6" y="313.4">UT</text>
<text x="221.3" y="393.5">AZ</text>
<text x="294.1" y="403.7">NM</text>
<text x="378.3" y="466.6">TX</text>
<text x="308.1" y="334.6">CO</text>
<text x="399" y="345.5">KS</text>
<text x="379.3" y="197.5">ND</text>
<text x="379.1" y="250.4">SD</text>
<text x="379.8" y="295.1">NE</text>
<text x="457.8" y="285.6">IA</text>
<text x="473.5" y="349.6">MO</text>
<text x="412.3" y="398.6">OK</text>
<text x="475.7" y="407.3">AR</text>
<text x="475.4" y="457.7">LA</text>
<text x="445.9" y="214.6">MN</text>
<text x="502.9" y="245.5">WI</text>
<text x="561.2" y="255.3">MI</text>
<text x="514.2" y="314.4">IL</text>
<text x="550.7" y="318.7">IN</text>
<text x="592.9" y="306.3">OH</text>
<text x="572.8" y="348.8">KY</text>
<text x="556.4" y="383.5">TN</text>
<text x="553.7" y="424.8">AL</text>
<text x="597.1" y="427.5">GA</text>
<text x="515" y="441.8">MS</text>
<text x="635.2" y="497.6">FL</text>
<text x="652.3" y="284.2">PA</text>
<text x="694.3" y="290.5">NJ</text>
<text x="669.1" y="307.6">MD</text>
<text x="687.5" y="314.4">DE</text>
<text x="620.7" y="329.5">WV</text>
<text x="654.6" y="340">VA</text>
<text x="659.6" y="374.7">NC</text>
<text x="630.7" y="407.3">SC</text>
<text x="734.5" y="191.5">ME</text>
<text x="699.8" y="215.9">VT</text>
<text x="714.9" y="228.4">NH</text>
<text x="673.7" y="246">NY</text>
<text x="714.9" y="246.5">MA</text>
<text x="708.6" y="259.8">CT</text>
<text x="723.2" y="258.6">RI</text>
<text x="140.9" y="496.3">AK</text>
<text x="298.9" y="547.3">HI</text>
</g>
</svg>
<p class="t ft" style="top:594.4px;letter-spacing:0.22px">Data is reported weekly. Map updated Thursday, June 9 and represents analysis as of Tuesday, June 7.</p>
<p class="t ft" style="top:621.5px">Source: US Drought Monitor</p>
<p class="t ft" style="top:637.5px">Graphic: John Keefe, CNN</p>
</body>
</html>
